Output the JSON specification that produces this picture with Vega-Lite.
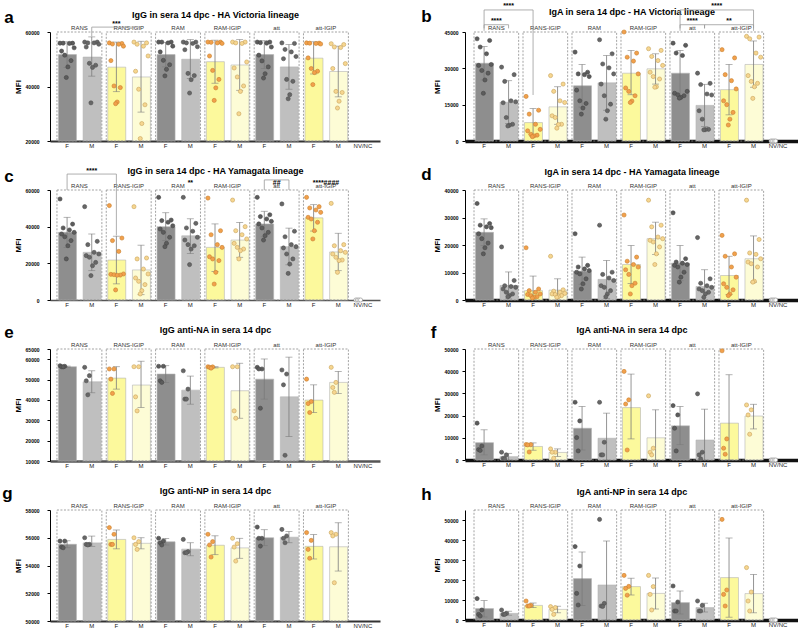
{
"$schema":"https://vega.github.io/schema/vega-lite/v6.json",
"padding":{"left":2,"top":2,"right":0,"bottom":0},
"background":"white",
"config":{
 "font":"Liberation Sans",
 "view":{"stroke":null},
 "title":{"fontSize":17,"fontWeight":"bold","color":"#000"},
 "axisY":{"grid":false,"labelFontSize":5,"labelFontWeight":"bold","labelColor":"#000","labelOverlap":false,"labelSeparation":-100,"labelBound":false,"labelFlush":false,"titleFontSize":8,"titleFontWeight":"bold","titleColor":"#000","domainColor":"#000","domainWidth":1,"tickColor":"#000","tickSize":3,"titlePadding":3},
 "axisX":{"labelAngle":0,"ticks":false,"grid":false,"labelFontSize":6,"labelColor":"#222","labelPadding":1.5}
},
"datasets":{
"groups":[
{"g":"RANS","fk":"RANS F","mk":"RANS M"},
{"g":"RANS-IGIP","fk":"RANS-IGIP F","mk":"RANS-IGIP M"},
{"g":"RAM","fk":"RAM F","mk":"RAM M"},
{"g":"RAM-IGIP","fk":"RAM-IGIP F","mk":"RAM-IGIP M"},
{"g":"att","fk":"att F","mk":"att M"},
{"g":"att-IGIP","fk":"att-IGIP F","mk":"att-IGIP M"}
],
"brk":[
{"p":"a","b1":"RANS M","b2":"RANS-IGIP M","y":61800,"l1":58400,"l2":61800},
{"p":"b","b1":"RANS F","b2":"RANS-IGIP F","y":54100,"l1":45500,"l2":19000},
{"p":"b","b1":"RANS F","b2":"RANS M","y":48000,"l1":46500,"l2":46500},
{"p":"b","b1":"att F","b2":"att-IGIP M","y":54100,"l1":45500,"l2":45500},
{"p":"b","b1":"att F","b2":"att M","y":48000,"l1":46500,"l2":46500},
{"p":"b","b1":"att M","b2":"att-IGIP M","y":48000,"l1":46500,"l2":46500},
{"p":"c","b1":"RANS F","b2":"RANS-IGIP F","y":68700,"l1":60000,"l2":35200},
{"p":"c","b1":"att F","b2":"att M","y":65500,"l1":60000,"l2":60000}
],
"sig":[
{"p":"a","at":"RANS-IGIP F","y":61800,"t":"***","mid":false},
{"p":"b","at":"RANS M","y":54100,"t":"****","mid":false},
{"p":"b","at":"RANS F","y":48000,"t":"****","mid":true},
{"p":"b","at":"att M","y":54100,"t":"****","mid":true},
{"p":"b","at":"att F","y":48000,"t":"****","mid":true},
{"p":"b","at":"att-IGIP F","y":48000,"t":"**","mid":false},
{"p":"c","at":"RANS M","y":68700,"t":"****","mid":false},
{"p":"c","at":"RAM M","y":62000,"t":"**","mid":false},
{"p":"c","at":"att F","y":62000,"t":"##","mid":true},
{"p":"c","at":"att-IGIP F","y":62000,"t":"****####","mid":true}
],
"bars":[
{"p":"a","bar":"RANS F","m":51700,"lo":47000,"hi":56400},
{"p":"a","bar":"RANS M","m":50800,"lo":43800,"hi":58200},
{"p":"a","bar":"RANS-IGIP F","m":47100,"lo":38100,"hi":56300},
{"p":"a","bar":"RANS-IGIP M","m":43500,"lo":30600,"hi":56600},
{"p":"a","bar":"RAM F","m":51700,"lo":47200,"hi":56200},
{"p":"a","bar":"RAM M","m":50000,"lo":42900,"hi":57200},
{"p":"a","bar":"RAM-IGIP F","m":49100,"lo":41200,"hi":57000},
{"p":"a","bar":"RAM-IGIP M","m":47900,"lo":38600,"hi":57200},
{"p":"a","bar":"att F","m":51700,"lo":46600,"hi":56800},
{"p":"a","bar":"att M","m":47200,"lo":39000,"hi":55400},
{"p":"a","bar":"att-IGIP F","m":50400,"lo":44600,"hi":56400},
{"p":"a","bar":"att-IGIP M","m":45500,"lo":36200,"hi":54800},
{"p":"b","bar":"RANS F","m":32100,"lo":25200,"hi":39000},
{"p":"b","bar":"RANS M","m":16000,"lo":7200,"hi":24900},
{"p":"b","bar":"RANS-IGIP F","m":7600,"lo":1800,"hi":13400},
{"p":"b","bar":"RANS-IGIP M","m":14100,"lo":6900,"hi":22400},
{"p":"b","bar":"RAM F","m":22800,"lo":14000,"hi":31600},
{"p":"b","bar":"RAM M","m":24000,"lo":12700,"hi":35300},
{"p":"b","bar":"RAM-IGIP F","m":28000,"lo":19100,"hi":37400},
{"p":"b","bar":"RAM-IGIP M","m":29800,"lo":23500,"hi":36000},
{"p":"b","bar":"att F","m":28000,"lo":18600,"hi":37400},
{"p":"b","bar":"att M","m":14700,"lo":6000,"hi":23400},
{"p":"b","bar":"att-IGIP F","m":21200,"lo":10800,"hi":31600},
{"p":"b","bar":"att-IGIP M","m":31600,"lo":22200,"hi":41300},
{"p":"c","bar":"RANS F","m":36900,"lo":28700,"hi":45100},
{"p":"c","bar":"RANS M","m":26000,"lo":16000,"hi":36000},
{"p":"c","bar":"RANS-IGIP F","m":21800,"lo":8800,"hi":34800},
{"p":"c","bar":"RANS-IGIP M","m":16400,"lo":2900,"hi":29900},
{"p":"c","bar":"RAM F","m":40000,"lo":32400,"hi":47600},
{"p":"c","bar":"RAM M","m":35000,"lo":25300,"hi":44300},
{"p":"c","bar":"RAM-IGIP F","m":28700,"lo":15600,"hi":41500},
{"p":"c","bar":"RAM-IGIP M","m":32700,"lo":23300,"hi":42300},
{"p":"c","bar":"att F","m":41500,"lo":34500,"hi":48400},
{"p":"c","bar":"att M","m":29100,"lo":19200,"hi":39200},
{"p":"c","bar":"att-IGIP F","m":44800,"lo":37600,"hi":52000},
{"p":"c","bar":"att-IGIP M","m":26200,"lo":16000,"hi":36400},
{"p":"d","bar":"RANS F","m":24600,"lo":19800,"hi":29500},
{"p":"d","bar":"RANS M","m":5300,"lo":400,"hi":10200},
{"p":"d","bar":"RANS-IGIP F","m":3400,"lo":0,"hi":8700},
{"p":"d","bar":"RANS-IGIP M","m":3600,"lo":0,"hi":7700},
{"p":"d","bar":"RAM F","m":10500,"lo":5700,"hi":15600},
{"p":"d","bar":"RAM M","m":7500,"lo":600,"hi":14400},
{"p":"d","bar":"RAM-IGIP F","m":12900,"lo":6000,"hi":19800},
{"p":"d","bar":"RAM-IGIP M","m":22300,"lo":16500,"hi":28300},
{"p":"d","bar":"att F","m":13400,"lo":7000,"hi":19800},
{"p":"d","bar":"att M","m":4900,"lo":0,"hi":11000},
{"p":"d","bar":"att-IGIP F","m":8900,"lo":2000,"hi":15900},
{"p":"d","bar":"att-IGIP M","m":15000,"lo":6500,"hi":23300},
{"p":"e","bar":"RANS F","m":56300,"lo":56000,"hi":56600},
{"p":"e","bar":"RANS M","m":48900,"lo":43500,"hi":54300},
{"p":"e","bar":"RANS-IGIP F","m":50700,"lo":45300,"hi":56300},
{"p":"e","bar":"RANS-IGIP M","m":47300,"lo":36300,"hi":59000},
{"p":"e","bar":"RAM F","m":52700,"lo":48600,"hi":56800},
{"p":"e","bar":"RAM M","m":44800,"lo":37900,"hi":51700},
{"p":"e","bar":"RAM-IGIP F","m":56000,"lo":55700,"hi":56300},
{"p":"e","bar":"RAM-IGIP M","m":44500,"lo":31000,"hi":58000},
{"p":"e","bar":"att F","m":50200,"lo":40400,"hi":60100},
{"p":"e","bar":"att M","m":41500,"lo":22000,"hi":61000},
{"p":"e","bar":"att-IGIP F","m":39900,"lo":33800,"hi":47400},
{"p":"e","bar":"att-IGIP M","m":48600,"lo":43200,"hi":54000},
{"p":"f","bar":"RANS F","m":7800,"lo":2300,"hi":13600},
{"p":"f","bar":"RANS M","m":1500,"lo":0,"hi":3000},
{"p":"f","bar":"RANS-IGIP F","m":6100,"lo":4400,"hi":7700},
{"p":"f","bar":"RANS-IGIP M","m":3400,"lo":1600,"hi":5000},
{"p":"f","bar":"RAM F","m":14300,"lo":4500,"hi":24100},
{"p":"f","bar":"RAM M","m":9800,"lo":0,"hi":21100},
{"p":"f","bar":"RAM-IGIP F","m":23600,"lo":9500,"hi":38700},
{"p":"f","bar":"RAM-IGIP M","m":10000,"lo":0,"hi":22600},
{"p":"f","bar":"att F","m":15400,"lo":6900,"hi":24100},
{"p":"f","bar":"att M","m":9000,"lo":0,"hi":22900},
{"p":"f","bar":"att-IGIP F","m":16600,"lo":0,"hi":38400},
{"p":"f","bar":"att-IGIP M","m":19800,"lo":14000,"hi":25100},
{"p":"g","bar":"RANS F","m":55530,"lo":55280,"hi":55780},
{"p":"g","bar":"RANS M","m":55630,"lo":55380,"hi":56120},
{"p":"g","bar":"RANS-IGIP F","m":55880,"lo":55200,"hi":56560},
{"p":"g","bar":"RANS-IGIP M","m":55600,"lo":55200,"hi":56000},
{"p":"g","bar":"RAM F","m":55710,"lo":55480,"hi":55950},
{"p":"g","bar":"RAM M","m":55180,"lo":54700,"hi":55640},
{"p":"g","bar":"RAM-IGIP F","m":55460,"lo":54780,"hi":56140},
{"p":"g","bar":"RAM-IGIP M","m":55270,"lo":54520,"hi":55960},
{"p":"g","bar":"att F","m":56000,"lo":55430,"hi":56580},
{"p":"g","bar":"att M","m":56040,"lo":55640,"hi":56450},
{"p":"g","bar":"att-IGIP F","m":55380,"lo":54470,"hi":56230},
{"p":"g","bar":"att-IGIP M","m":55350,"lo":53600,"hi":57080},
{"p":"h","bar":"RANS F","m":5700,"lo":1500,"hi":9700},
{"p":"h","bar":"RANS M","m":3300,"lo":2400,"hi":4400},
{"p":"h","bar":"RANS-IGIP F","m":7300,"lo":6200,"hi":8500},
{"p":"h","bar":"RANS-IGIP M","m":5300,"lo":3600,"hi":6900},
{"p":"h","bar":"RAM F","m":20700,"lo":7300,"hi":34000},
{"p":"h","bar":"RAM M","m":17500,"lo":0,"hi":39500},
{"p":"h","bar":"RAM-IGIP F","m":16700,"lo":12500,"hi":20900},
{"p":"h","bar":"RAM-IGIP M","m":13300,"lo":5500,"hi":21000},
{"p":"h","bar":"att F","m":8700,"lo":3000,"hi":14500},
{"p":"h","bar":"att M","m":6200,"lo":4000,"hi":8400},
{"p":"h","bar":"att-IGIP F","m":21200,"lo":1400,"hi":41000},
{"p":"h","bar":"att-IGIP M","m":13200,"lo":3600,"hi":22800}
],
"pts":[
{"p":"a","bar":"RANS F","id":1,"v":55900},{"p":"a","bar":"RANS F","id":9,"v":55900},{"p":"a","bar":"RANS F","id":3,"v":55900},{"p":"a","bar":"RANS F","id":7,"v":55800},{"p":"a","bar":"RANS F","id":10,"v":54200},{"p":"a","bar":"RANS F","id":2,"v":53000},{"p":"a","bar":"RANS F","id":4,"v":51500},{"p":"a","bar":"RANS F","id":8,"v":49500},{"p":"a","bar":"RANS F","id":6,"v":47200},{"p":"a","bar":"RANS F","id":5,"v":43300},
{"p":"a","bar":"RANS M","id":1,"v":56300},{"p":"a","bar":"RANS M","id":9,"v":56300},{"p":"a","bar":"RANS M","id":3,"v":56000},{"p":"a","bar":"RANS M","id":7,"v":56000},{"p":"a","bar":"RANS M","id":10,"v":55500},{"p":"a","bar":"RANS M","id":2,"v":54500},{"p":"a","bar":"RANS M","id":4,"v":48500},{"p":"a","bar":"RANS M","id":8,"v":47800},{"p":"a","bar":"RANS M","id":6,"v":47000},{"p":"a","bar":"RANS M","id":5,"v":34000},
{"p":"a","bar":"RANS-IGIP F","id":1,"v":56000},{"p":"a","bar":"RANS-IGIP F","id":9,"v":55800},{"p":"a","bar":"RANS-IGIP F","id":3,"v":55600},{"p":"a","bar":"RANS-IGIP F","id":7,"v":55500},{"p":"a","bar":"RANS-IGIP F","id":10,"v":54800},{"p":"a","bar":"RANS-IGIP F","id":2,"v":49500},{"p":"a","bar":"RANS-IGIP F","id":4,"v":40200},{"p":"a","bar":"RANS-IGIP F","id":8,"v":39600},{"p":"a","bar":"RANS-IGIP F","id":6,"v":34300},{"p":"a","bar":"RANS-IGIP F","id":5,"v":33700},
{"p":"a","bar":"RANS-IGIP M","id":1,"v":56300},{"p":"a","bar":"RANS-IGIP M","id":9,"v":56000},{"p":"a","bar":"RANS-IGIP M","id":3,"v":55500},{"p":"a","bar":"RANS-IGIP M","id":7,"v":54800},{"p":"a","bar":"RANS-IGIP M","id":10,"v":51200},{"p":"a","bar":"RANS-IGIP M","id":2,"v":45600},{"p":"a","bar":"RANS-IGIP M","id":4,"v":39000},{"p":"a","bar":"RANS-IGIP M","id":8,"v":33300},{"p":"a","bar":"RANS-IGIP M","id":6,"v":26400},{"p":"a","bar":"RANS-IGIP M","id":5,"v":20900},
{"p":"a","bar":"RAM F","id":1,"v":56300},{"p":"a","bar":"RAM F","id":9,"v":56300},{"p":"a","bar":"RAM F","id":3,"v":56300},{"p":"a","bar":"RAM F","id":7,"v":56000},{"p":"a","bar":"RAM F","id":10,"v":54800},{"p":"a","bar":"RAM F","id":2,"v":52700},{"p":"a","bar":"RAM F","id":4,"v":49600},{"p":"a","bar":"RAM F","id":8,"v":48000},{"p":"a","bar":"RAM F","id":6,"v":46300},{"p":"a","bar":"RAM F","id":5,"v":43900},
{"p":"a","bar":"RAM M","id":1,"v":56300},{"p":"a","bar":"RAM M","id":9,"v":56300},{"p":"a","bar":"RAM M","id":3,"v":56000},{"p":"a","bar":"RAM M","id":7,"v":55800},{"p":"a","bar":"RAM M","id":10,"v":54600},{"p":"a","bar":"RAM M","id":2,"v":53500},{"p":"a","bar":"RAM M","id":4,"v":44800},{"p":"a","bar":"RAM M","id":8,"v":44000},{"p":"a","bar":"RAM M","id":6,"v":42500},{"p":"a","bar":"RAM M","id":5,"v":37600},
{"p":"a","bar":"RAM-IGIP F","id":1,"v":56300},{"p":"a","bar":"RAM-IGIP F","id":9,"v":56300},{"p":"a","bar":"RAM-IGIP F","id":3,"v":56200},{"p":"a","bar":"RAM-IGIP F","id":7,"v":56000},{"p":"a","bar":"RAM-IGIP F","id":10,"v":55800},{"p":"a","bar":"RAM-IGIP F","id":2,"v":51200},{"p":"a","bar":"RAM-IGIP F","id":4,"v":45900},{"p":"a","bar":"RAM-IGIP F","id":8,"v":42600},{"p":"a","bar":"RAM-IGIP F","id":6,"v":39500},{"p":"a","bar":"RAM-IGIP F","id":5,"v":34900},
{"p":"a","bar":"RAM-IGIP M","id":1,"v":56300},{"p":"a","bar":"RAM-IGIP M","id":9,"v":56300},{"p":"a","bar":"RAM-IGIP M","id":3,"v":56000},{"p":"a","bar":"RAM-IGIP M","id":7,"v":55800},{"p":"a","bar":"RAM-IGIP M","id":10,"v":49000},{"p":"a","bar":"RAM-IGIP M","id":2,"v":46800},{"p":"a","bar":"RAM-IGIP M","id":4,"v":43500},{"p":"a","bar":"RAM-IGIP M","id":8,"v":40200},{"p":"a","bar":"RAM-IGIP M","id":6,"v":38200},{"p":"a","bar":"RAM-IGIP M","id":5,"v":30000},
{"p":"a","bar":"att F","id":1,"v":56300},{"p":"a","bar":"att F","id":9,"v":56300},{"p":"a","bar":"att F","id":3,"v":56100},{"p":"a","bar":"att F","id":7,"v":55900},{"p":"a","bar":"att F","id":10,"v":54500},{"p":"a","bar":"att F","id":2,"v":51500},{"p":"a","bar":"att F","id":4,"v":49400},{"p":"a","bar":"att F","id":8,"v":47200},{"p":"a","bar":"att F","id":6,"v":44700},{"p":"a","bar":"att F","id":5,"v":43100},
{"p":"a","bar":"att M","id":1,"v":56000},{"p":"a","bar":"att M","id":9,"v":55800},{"p":"a","bar":"att M","id":3,"v":53600},{"p":"a","bar":"att M","id":7,"v":52700},{"p":"a","bar":"att M","id":10,"v":51000},{"p":"a","bar":"att M","id":2,"v":50200},{"p":"a","bar":"att M","id":4,"v":42600},{"p":"a","bar":"att M","id":8,"v":41900},{"p":"a","bar":"att M","id":6,"v":37000},{"p":"a","bar":"att M","id":5,"v":35500},
{"p":"a","bar":"att-IGIP F","id":1,"v":56000},{"p":"a","bar":"att-IGIP F","id":9,"v":55900},{"p":"a","bar":"att-IGIP F","id":3,"v":55900},{"p":"a","bar":"att-IGIP F","id":7,"v":55800},{"p":"a","bar":"att-IGIP F","id":10,"v":55600},{"p":"a","bar":"att-IGIP F","id":2,"v":50500},{"p":"a","bar":"att-IGIP F","id":4,"v":46600},{"p":"a","bar":"att-IGIP F","id":8,"v":45600},{"p":"a","bar":"att-IGIP F","id":6,"v":45100},{"p":"a","bar":"att-IGIP F","id":5,"v":40700},
{"p":"a","bar":"att-IGIP M","id":1,"v":55700},{"p":"a","bar":"att-IGIP M","id":9,"v":55400},{"p":"a","bar":"att-IGIP M","id":3,"v":54500},{"p":"a","bar":"att-IGIP M","id":7,"v":54300},{"p":"a","bar":"att-IGIP M","id":10,"v":48400},{"p":"a","bar":"att-IGIP M","id":2,"v":46600},{"p":"a","bar":"att-IGIP M","id":4,"v":38200},{"p":"a","bar":"att-IGIP M","id":8,"v":37800},{"p":"a","bar":"att-IGIP M","id":6,"v":34600},{"p":"a","bar":"att-IGIP M","id":5,"v":32100},
{"p":"b","bar":"RANS F","id":1,"v":42200},{"p":"b","bar":"RANS F","id":9,"v":41500},{"p":"b","bar":"RANS F","id":3,"v":38800},{"p":"b","bar":"RANS F","id":7,"v":36000},{"p":"b","bar":"RANS F","id":10,"v":31600},{"p":"b","bar":"RANS F","id":2,"v":31200},{"p":"b","bar":"RANS F","id":4,"v":29100},{"p":"b","bar":"RANS F","id":8,"v":28000},{"p":"b","bar":"RANS F","id":6,"v":25200},{"p":"b","bar":"RANS F","id":5,"v":19700},
{"p":"b","bar":"RANS M","id":1,"v":30500},{"p":"b","bar":"RANS M","id":9,"v":27400},{"p":"b","bar":"RANS M","id":3,"v":24600},{"p":"b","bar":"RANS M","id":7,"v":16600},{"p":"b","bar":"RANS M","id":10,"v":16200},{"p":"b","bar":"RANS M","id":2,"v":15800},{"p":"b","bar":"RANS M","id":4,"v":9700},{"p":"b","bar":"RANS M","id":8,"v":6900},{"p":"b","bar":"RANS M","id":6,"v":6500},{"p":"b","bar":"RANS M","id":5,"v":6200},
{"p":"b","bar":"RANS-IGIP F","id":1,"v":18400},{"p":"b","bar":"RANS-IGIP F","id":9,"v":12700},{"p":"b","bar":"RANS-IGIP F","id":3,"v":11100},{"p":"b","bar":"RANS-IGIP F","id":7,"v":6900},{"p":"b","bar":"RANS-IGIP F","id":10,"v":4800},{"p":"b","bar":"RANS-IGIP F","id":2,"v":4200},{"p":"b","bar":"RANS-IGIP F","id":4,"v":2800},{"p":"b","bar":"RANS-IGIP F","id":8,"v":2400},{"p":"b","bar":"RANS-IGIP F","id":6,"v":2100},{"p":"b","bar":"RANS-IGIP F","id":5,"v":1800},
{"p":"b","bar":"RANS-IGIP M","id":1,"v":27000},{"p":"b","bar":"RANS-IGIP M","id":9,"v":23500},{"p":"b","bar":"RANS-IGIP M","id":3,"v":20500},{"p":"b","bar":"RANS-IGIP M","id":7,"v":16600},{"p":"b","bar":"RANS-IGIP M","id":10,"v":15900},{"p":"b","bar":"RANS-IGIP M","id":2,"v":10400},{"p":"b","bar":"RANS-IGIP M","id":4,"v":9700},{"p":"b","bar":"RANS-IGIP M","id":8,"v":6900},{"p":"b","bar":"RANS-IGIP M","id":6,"v":6800},{"p":"b","bar":"RANS-IGIP M","id":5,"v":5300},
{"p":"b","bar":"RAM F","id":1,"v":36700},{"p":"b","bar":"RAM F","id":9,"v":28400},{"p":"b","bar":"RAM F","id":3,"v":27700},{"p":"b","bar":"RAM F","id":7,"v":27400},{"p":"b","bar":"RAM F","id":10,"v":26600},{"p":"b","bar":"RAM F","id":2,"v":21000},{"p":"b","bar":"RAM F","id":4,"v":16600},{"p":"b","bar":"RAM F","id":8,"v":15500},{"p":"b","bar":"RAM F","id":6,"v":13600},{"p":"b","bar":"RAM F","id":5,"v":11100},
{"p":"b","bar":"RAM M","id":1,"v":41800},{"p":"b","bar":"RAM M","id":9,"v":36000},{"p":"b","bar":"RAM M","id":3,"v":31800},{"p":"b","bar":"RAM M","id":7,"v":30200},{"p":"b","bar":"RAM M","id":10,"v":27700},{"p":"b","bar":"RAM M","id":2,"v":23500},{"p":"b","bar":"RAM M","id":4,"v":18700},{"p":"b","bar":"RAM M","id":8,"v":15200},{"p":"b","bar":"RAM M","id":6,"v":12500},{"p":"b","bar":"RAM M","id":5,"v":9000},
{"p":"b","bar":"RAM-IGIP F","id":1,"v":45000},{"p":"b","bar":"RAM-IGIP F","id":9,"v":36300},{"p":"b","bar":"RAM-IGIP F","id":3,"v":34600},{"p":"b","bar":"RAM-IGIP F","id":7,"v":33000},{"p":"b","bar":"RAM-IGIP F","id":10,"v":27700},{"p":"b","bar":"RAM-IGIP F","id":2,"v":21900},{"p":"b","bar":"RAM-IGIP F","id":4,"v":20500},{"p":"b","bar":"RAM-IGIP F","id":8,"v":18700},{"p":"b","bar":"RAM-IGIP F","id":6,"v":16500},{"p":"b","bar":"RAM-IGIP F","id":5,"v":15900},
{"p":"b","bar":"RAM-IGIP M","id":1,"v":38100},{"p":"b","bar":"RAM-IGIP M","id":9,"v":37400},{"p":"b","bar":"RAM-IGIP M","id":3,"v":34900},{"p":"b","bar":"RAM-IGIP M","id":7,"v":33200},{"p":"b","bar":"RAM-IGIP M","id":10,"v":31200},{"p":"b","bar":"RAM-IGIP M","id":2,"v":28400},{"p":"b","bar":"RAM-IGIP M","id":4,"v":26600},{"p":"b","bar":"RAM-IGIP M","id":8,"v":25600},{"p":"b","bar":"RAM-IGIP M","id":6,"v":22400},{"p":"b","bar":"RAM-IGIP M","id":5,"v":22200},
{"p":"b","bar":"att F","id":1,"v":40400},{"p":"b","bar":"att F","id":9,"v":39500},{"p":"b","bar":"att F","id":3,"v":36300},{"p":"b","bar":"att F","id":7,"v":35300},{"p":"b","bar":"att F","id":10,"v":20500},{"p":"b","bar":"att F","id":2,"v":19700},{"p":"b","bar":"att F","id":4,"v":19100},{"p":"b","bar":"att F","id":8,"v":18700},{"p":"b","bar":"att F","id":6,"v":18000},{"p":"b","bar":"att F","id":5,"v":17700},
{"p":"b","bar":"att M","id":1,"v":28000},{"p":"b","bar":"att M","id":9,"v":23800},{"p":"b","bar":"att M","id":3,"v":23300},{"p":"b","bar":"att M","id":7,"v":19400},{"p":"b","bar":"att M","id":10,"v":19000},{"p":"b","bar":"att M","id":2,"v":12500},{"p":"b","bar":"att M","id":4,"v":9000},{"p":"b","bar":"att M","id":8,"v":4800},{"p":"b","bar":"att M","id":6,"v":4700},{"p":"b","bar":"att M","id":5,"v":4600},
{"p":"b","bar":"att-IGIP F","id":1,"v":37700},{"p":"b","bar":"att-IGIP F","id":9,"v":34300},{"p":"b","bar":"att-IGIP F","id":3,"v":27400},{"p":"b","bar":"att-IGIP F","id":7,"v":24900},{"p":"b","bar":"att-IGIP F","id":10,"v":21500},{"p":"b","bar":"att-IGIP F","id":2,"v":16600},{"p":"b","bar":"att-IGIP F","id":4,"v":15000},{"p":"b","bar":"att-IGIP F","id":8,"v":11800},{"p":"b","bar":"att-IGIP F","id":6,"v":9000},{"p":"b","bar":"att-IGIP F","id":5,"v":6600},
{"p":"b","bar":"att-IGIP M","id":1,"v":43200},{"p":"b","bar":"att-IGIP M","id":9,"v":42900},{"p":"b","bar":"att-IGIP M","id":3,"v":42200},{"p":"b","bar":"att-IGIP M","id":7,"v":36300},{"p":"b","bar":"att-IGIP M","id":10,"v":34600},{"p":"b","bar":"att-IGIP M","id":2,"v":27000},{"p":"b","bar":"att-IGIP M","id":4,"v":24600},{"p":"b","bar":"att-IGIP M","id":8,"v":23800},{"p":"b","bar":"att-IGIP M","id":6,"v":22400},{"p":"b","bar":"att-IGIP M","id":5,"v":17600},
{"p":"b","bar":"NV/NC","id":1,"v":0},{"p":"b","bar":"NV/NC","id":2,"v":0},{"p":"b","bar":"NV/NC","id":3,"v":0},{"p":"b","bar":"NV/NC","id":4,"v":0},
{"p":"c","bar":"RANS F","id":1,"v":55100},{"p":"c","bar":"RANS F","id":9,"v":41400},{"p":"c","bar":"RANS F","id":3,"v":39300},{"p":"c","bar":"RANS F","id":7,"v":38200},{"p":"c","bar":"RANS F","id":10,"v":36900},{"p":"c","bar":"RANS F","id":2,"v":36000},{"p":"c","bar":"RANS F","id":4,"v":34500},{"p":"c","bar":"RANS F","id":8,"v":32400},{"p":"c","bar":"RANS F","id":6,"v":29600},{"p":"c","bar":"RANS F","id":5,"v":22400},
{"p":"c","bar":"RANS M","id":1,"v":50900},{"p":"c","bar":"RANS M","id":9,"v":32000},{"p":"c","bar":"RANS M","id":3,"v":30200},{"p":"c","bar":"RANS M","id":7,"v":26000},{"p":"c","bar":"RANS M","id":10,"v":25100},{"p":"c","bar":"RANS M","id":2,"v":24200},{"p":"c","bar":"RANS M","id":4,"v":23300},{"p":"c","bar":"RANS M","id":8,"v":20500},{"p":"c","bar":"RANS M","id":6,"v":18700},{"p":"c","bar":"RANS M","id":5,"v":13300},
{"p":"c","bar":"RANS-IGIP F","id":1,"v":51500},{"p":"c","bar":"RANS-IGIP F","id":9,"v":33800},{"p":"c","bar":"RANS-IGIP F","id":3,"v":32400},{"p":"c","bar":"RANS-IGIP F","id":7,"v":26500},{"p":"c","bar":"RANS-IGIP F","id":10,"v":14200},{"p":"c","bar":"RANS-IGIP F","id":2,"v":14000},{"p":"c","bar":"RANS-IGIP F","id":4,"v":13800},{"p":"c","bar":"RANS-IGIP F","id":8,"v":13600},{"p":"c","bar":"RANS-IGIP F","id":6,"v":13500},{"p":"c","bar":"RANS-IGIP F","id":5,"v":5500},
{"p":"c","bar":"RANS-IGIP M","id":1,"v":50900},{"p":"c","bar":"RANS-IGIP M","id":9,"v":22900},{"p":"c","bar":"RANS-IGIP M","id":3,"v":22400},{"p":"c","bar":"RANS-IGIP M","id":7,"v":16900},{"p":"c","bar":"RANS-IGIP M","id":10,"v":14200},{"p":"c","bar":"RANS-IGIP M","id":2,"v":12000},{"p":"c","bar":"RANS-IGIP M","id":4,"v":10200},{"p":"c","bar":"RANS-IGIP M","id":8,"v":8400},{"p":"c","bar":"RANS-IGIP M","id":6,"v":5100},{"p":"c","bar":"RANS-IGIP M","id":5,"v":3300},
{"p":"c","bar":"RAM F","id":1,"v":56000},{"p":"c","bar":"RAM F","id":9,"v":43600},{"p":"c","bar":"RAM F","id":3,"v":43300},{"p":"c","bar":"RAM F","id":7,"v":42400},{"p":"c","bar":"RAM F","id":10,"v":40500},{"p":"c","bar":"RAM F","id":2,"v":38700},{"p":"c","bar":"RAM F","id":4,"v":36900},{"p":"c","bar":"RAM F","id":8,"v":34200},{"p":"c","bar":"RAM F","id":6,"v":30900},{"p":"c","bar":"RAM F","id":5,"v":29100},
{"p":"c","bar":"RAM M","id":1,"v":56000},{"p":"c","bar":"RAM M","id":9,"v":41800},{"p":"c","bar":"RAM M","id":3,"v":39300},{"p":"c","bar":"RAM M","id":7,"v":37500},{"p":"c","bar":"RAM M","id":10,"v":34200},{"p":"c","bar":"RAM M","id":2,"v":32700},{"p":"c","bar":"RAM M","id":4,"v":30200},{"p":"c","bar":"RAM M","id":8,"v":29600},{"p":"c","bar":"RAM M","id":6,"v":27800},{"p":"c","bar":"RAM M","id":5,"v":19300},
{"p":"c","bar":"RAM-IGIP F","id":1,"v":55600},{"p":"c","bar":"RAM-IGIP F","id":9,"v":37800},{"p":"c","bar":"RAM-IGIP F","id":3,"v":35600},{"p":"c","bar":"RAM-IGIP F","id":7,"v":30200},{"p":"c","bar":"RAM-IGIP F","id":10,"v":28700},{"p":"c","bar":"RAM-IGIP F","id":2,"v":23600},{"p":"c","bar":"RAM-IGIP F","id":4,"v":22400},{"p":"c","bar":"RAM-IGIP F","id":8,"v":21500},{"p":"c","bar":"RAM-IGIP F","id":6,"v":15100},{"p":"c","bar":"RAM-IGIP F","id":5,"v":8700},
{"p":"c","bar":"RAM-IGIP M","id":1,"v":54500},{"p":"c","bar":"RAM-IGIP M","id":9,"v":40000},{"p":"c","bar":"RAM-IGIP M","id":3,"v":37800},{"p":"c","bar":"RAM-IGIP M","id":7,"v":35600},{"p":"c","bar":"RAM-IGIP M","id":10,"v":33300},{"p":"c","bar":"RAM-IGIP M","id":2,"v":30900},{"p":"c","bar":"RAM-IGIP M","id":4,"v":28700},{"p":"c","bar":"RAM-IGIP M","id":8,"v":27800},{"p":"c","bar":"RAM-IGIP M","id":6,"v":26900},{"p":"c","bar":"RAM-IGIP M","id":5,"v":22400},
{"p":"c","bar":"att F","id":1,"v":56000},{"p":"c","bar":"att F","id":9,"v":46500},{"p":"c","bar":"att F","id":3,"v":45500},{"p":"c","bar":"att F","id":7,"v":44200},{"p":"c","bar":"att F","id":10,"v":42900},{"p":"c","bar":"att F","id":2,"v":41500},{"p":"c","bar":"att F","id":4,"v":39300},{"p":"c","bar":"att F","id":8,"v":36900},{"p":"c","bar":"att F","id":6,"v":35100},{"p":"c","bar":"att F","id":5,"v":32700},
{"p":"c","bar":"att M","id":1,"v":52400},{"p":"c","bar":"att M","id":9,"v":37500},{"p":"c","bar":"att M","id":3,"v":34500},{"p":"c","bar":"att M","id":7,"v":30200},{"p":"c","bar":"att M","id":10,"v":29100},{"p":"c","bar":"att M","id":2,"v":28400},{"p":"c","bar":"att M","id":4,"v":25100},{"p":"c","bar":"att M","id":8,"v":22400},{"p":"c","bar":"att M","id":6,"v":19600},{"p":"c","bar":"att M","id":5,"v":14500},
{"p":"c","bar":"att-IGIP F","id":1,"v":56000},{"p":"c","bar":"att-IGIP F","id":9,"v":50900},{"p":"c","bar":"att-IGIP F","id":3,"v":50200},{"p":"c","bar":"att-IGIP F","id":7,"v":49100},{"p":"c","bar":"att-IGIP F","id":10,"v":47800},{"p":"c","bar":"att-IGIP F","id":2,"v":45100},{"p":"c","bar":"att-IGIP F","id":4,"v":44200},{"p":"c","bar":"att-IGIP F","id":8,"v":42400},{"p":"c","bar":"att-IGIP F","id":6,"v":37800},{"p":"c","bar":"att-IGIP F","id":5,"v":33300},
{"p":"c","bar":"att-IGIP M","id":1,"v":52700},{"p":"c","bar":"att-IGIP M","id":9,"v":30200},{"p":"c","bar":"att-IGIP M","id":3,"v":29600},{"p":"c","bar":"att-IGIP M","id":7,"v":26900},{"p":"c","bar":"att-IGIP M","id":10,"v":26000},{"p":"c","bar":"att-IGIP M","id":2,"v":25100},{"p":"c","bar":"att-IGIP M","id":4,"v":23300},{"p":"c","bar":"att-IGIP M","id":8,"v":21800},{"p":"c","bar":"att-IGIP M","id":6,"v":21500},{"p":"c","bar":"att-IGIP M","id":5,"v":15100},
{"p":"c","bar":"NV/NC","id":1,"v":0},{"p":"c","bar":"NV/NC","id":2,"v":0},{"p":"c","bar":"NV/NC","id":3,"v":0},{"p":"c","bar":"NV/NC","id":4,"v":0},
{"p":"d","bar":"RANS F","id":1,"v":35100},{"p":"d","bar":"RANS F","id":9,"v":27800},{"p":"d","bar":"RANS F","id":3,"v":27200},{"p":"d","bar":"RANS F","id":7,"v":26600},{"p":"d","bar":"RANS F","id":10,"v":26300},{"p":"d","bar":"RANS F","id":2,"v":24100},{"p":"d","bar":"RANS F","id":4,"v":22300},{"p":"d","bar":"RANS F","id":8,"v":20700},{"p":"d","bar":"RANS F","id":6,"v":19000},{"p":"d","bar":"RANS F","id":5,"v":16800},
{"p":"d","bar":"RANS M","id":1,"v":19300},{"p":"d","bar":"RANS M","id":9,"v":7100},{"p":"d","bar":"RANS M","id":3,"v":5200},{"p":"d","bar":"RANS M","id":7,"v":4900},{"p":"d","bar":"RANS M","id":10,"v":4600},{"p":"d","bar":"RANS M","id":2,"v":4000},{"p":"d","bar":"RANS M","id":4,"v":2800},{"p":"d","bar":"RANS M","id":8,"v":2200},{"p":"d","bar":"RANS M","id":6,"v":1600},{"p":"d","bar":"RANS M","id":5,"v":1200},
{"p":"d","bar":"RANS-IGIP F","id":1,"v":19000},{"p":"d","bar":"RANS-IGIP F","id":9,"v":4000},{"p":"d","bar":"RANS-IGIP F","id":3,"v":3400},{"p":"d","bar":"RANS-IGIP F","id":7,"v":2800},{"p":"d","bar":"RANS-IGIP F","id":10,"v":2200},{"p":"d","bar":"RANS-IGIP F","id":2,"v":2000},{"p":"d","bar":"RANS-IGIP F","id":4,"v":1600},{"p":"d","bar":"RANS-IGIP F","id":8,"v":1200},{"p":"d","bar":"RANS-IGIP F","id":6,"v":1000},{"p":"d","bar":"RANS-IGIP F","id":5,"v":700},
{"p":"d","bar":"RANS-IGIP M","id":1,"v":15900},{"p":"d","bar":"RANS-IGIP M","id":9,"v":3700},{"p":"d","bar":"RANS-IGIP M","id":3,"v":3200},{"p":"d","bar":"RANS-IGIP M","id":7,"v":2800},{"p":"d","bar":"RANS-IGIP M","id":10,"v":2400},{"p":"d","bar":"RANS-IGIP M","id":2,"v":2200},{"p":"d","bar":"RANS-IGIP M","id":4,"v":2000},{"p":"d","bar":"RANS-IGIP M","id":8,"v":1600},{"p":"d","bar":"RANS-IGIP M","id":6,"v":1200},{"p":"d","bar":"RANS-IGIP M","id":5,"v":1000},
{"p":"d","bar":"RAM F","id":1,"v":24100},{"p":"d","bar":"RAM F","id":9,"v":12600},{"p":"d","bar":"RAM F","id":3,"v":12000},{"p":"d","bar":"RAM F","id":7,"v":11300},{"p":"d","bar":"RAM F","id":10,"v":10700},{"p":"d","bar":"RAM F","id":2,"v":10100},{"p":"d","bar":"RAM F","id":4,"v":9500},{"p":"d","bar":"RAM F","id":8,"v":7700},{"p":"d","bar":"RAM F","id":6,"v":5900},{"p":"d","bar":"RAM F","id":5,"v":4000},
{"p":"d","bar":"RAM M","id":1,"v":27200},{"p":"d","bar":"RAM M","id":9,"v":10100},{"p":"d","bar":"RAM M","id":3,"v":9300},{"p":"d","bar":"RAM M","id":7,"v":8000},{"p":"d","bar":"RAM M","id":10,"v":7100},{"p":"d","bar":"RAM M","id":2,"v":5200},{"p":"d","bar":"RAM M","id":4,"v":4600},{"p":"d","bar":"RAM M","id":8,"v":3400},{"p":"d","bar":"RAM M","id":6,"v":2200},{"p":"d","bar":"RAM M","id":5,"v":1200},
{"p":"d","bar":"RAM-IGIP F","id":1,"v":30900},{"p":"d","bar":"RAM-IGIP F","id":9,"v":15600},{"p":"d","bar":"RAM-IGIP F","id":3,"v":14100},{"p":"d","bar":"RAM-IGIP F","id":7,"v":12900},{"p":"d","bar":"RAM-IGIP F","id":10,"v":12000},{"p":"d","bar":"RAM-IGIP F","id":2,"v":11000},{"p":"d","bar":"RAM-IGIP F","id":4,"v":9300},{"p":"d","bar":"RAM-IGIP F","id":8,"v":6100},{"p":"d","bar":"RAM-IGIP F","id":6,"v":5200},{"p":"d","bar":"RAM-IGIP F","id":5,"v":2200},
{"p":"d","bar":"RAM-IGIP M","id":1,"v":36300},{"p":"d","bar":"RAM-IGIP M","id":9,"v":27200},{"p":"d","bar":"RAM-IGIP M","id":3,"v":26600},{"p":"d","bar":"RAM-IGIP M","id":7,"v":22900},{"p":"d","bar":"RAM-IGIP M","id":10,"v":22300},{"p":"d","bar":"RAM-IGIP M","id":2,"v":21700},{"p":"d","bar":"RAM-IGIP M","id":4,"v":21100},{"p":"d","bar":"RAM-IGIP M","id":8,"v":19300},{"p":"d","bar":"RAM-IGIP M","id":6,"v":16800},{"p":"d","bar":"RAM-IGIP M","id":5,"v":12900},
{"p":"d","bar":"att F","id":1,"v":31700},{"p":"d","bar":"att F","id":9,"v":15000},{"p":"d","bar":"att F","id":3,"v":13800},{"p":"d","bar":"att F","id":7,"v":13400},{"p":"d","bar":"att F","id":10,"v":12900},{"p":"d","bar":"att F","id":2,"v":12600},{"p":"d","bar":"att F","id":4,"v":12000},{"p":"d","bar":"att F","id":8,"v":10100},{"p":"d","bar":"att F","id":6,"v":8300},{"p":"d","bar":"att F","id":5,"v":6500},
{"p":"d","bar":"att M","id":1,"v":22700},{"p":"d","bar":"att M","id":9,"v":7700},{"p":"d","bar":"att M","id":3,"v":6100},{"p":"d","bar":"att M","id":7,"v":5200},{"p":"d","bar":"att M","id":10,"v":4600},{"p":"d","bar":"att M","id":2,"v":4000},{"p":"d","bar":"att M","id":4,"v":3400},{"p":"d","bar":"att M","id":8,"v":2800},{"p":"d","bar":"att M","id":6,"v":2200},{"p":"d","bar":"att M","id":5,"v":1000},
{"p":"d","bar":"att-IGIP F","id":1,"v":23500},{"p":"d","bar":"att-IGIP F","id":9,"v":16800},{"p":"d","bar":"att-IGIP F","id":3,"v":15900},{"p":"d","bar":"att-IGIP F","id":7,"v":12000},{"p":"d","bar":"att-IGIP F","id":10,"v":8300},{"p":"d","bar":"att-IGIP F","id":2,"v":5900},{"p":"d","bar":"att-IGIP F","id":4,"v":4600},{"p":"d","bar":"att-IGIP F","id":8,"v":3700},{"p":"d","bar":"att-IGIP F","id":6,"v":2200},{"p":"d","bar":"att-IGIP F","id":5,"v":1600},
{"p":"d","bar":"att-IGIP M","id":1,"v":36300},{"p":"d","bar":"att-IGIP M","id":9,"v":22000},{"p":"d","bar":"att-IGIP M","id":3,"v":17100},{"p":"d","bar":"att-IGIP M","id":7,"v":16600},{"p":"d","bar":"att-IGIP M","id":10,"v":15000},{"p":"d","bar":"att-IGIP M","id":2,"v":13800},{"p":"d","bar":"att-IGIP M","id":4,"v":13200},{"p":"d","bar":"att-IGIP M","id":8,"v":12000},{"p":"d","bar":"att-IGIP M","id":6,"v":6800},{"p":"d","bar":"att-IGIP M","id":5,"v":6500},
{"p":"d","bar":"NV/NC","id":1,"v":0},{"p":"d","bar":"NV/NC","id":2,"v":0},{"p":"d","bar":"NV/NC","id":3,"v":0},{"p":"d","bar":"NV/NC","id":4,"v":0},
{"p":"e","bar":"RANS F","id":1,"v":56800},{"p":"e","bar":"RANS F","id":4,"v":56500},{"p":"e","bar":"RANS F","id":2,"v":56300},{"p":"e","bar":"RANS F","id":3,"v":56200},
{"p":"e","bar":"RANS M","id":1,"v":56000},{"p":"e","bar":"RANS M","id":4,"v":51900},{"p":"e","bar":"RANS M","id":2,"v":49400},{"p":"e","bar":"RANS M","id":3,"v":42500},
{"p":"e","bar":"RANS-IGIP F","id":1,"v":55200},{"p":"e","bar":"RANS-IGIP F","id":4,"v":55200},{"p":"e","bar":"RANS-IGIP F","id":2,"v":50200},{"p":"e","bar":"RANS-IGIP F","id":3,"v":43200},
{"p":"e","bar":"RANS-IGIP M","id":1,"v":56300},{"p":"e","bar":"RANS-IGIP M","id":4,"v":56300},{"p":"e","bar":"RANS-IGIP M","id":2,"v":41500},{"p":"e","bar":"RANS-IGIP M","id":3,"v":34600},
{"p":"e","bar":"RAM F","id":1,"v":56500},{"p":"e","bar":"RAM F","id":4,"v":56500},{"p":"e","bar":"RAM F","id":2,"v":49400},{"p":"e","bar":"RAM F","id":3,"v":48600},
{"p":"e","bar":"RAM M","id":1,"v":54300},{"p":"e","bar":"RAM M","id":4,"v":45300},{"p":"e","bar":"RAM M","id":2,"v":40400},{"p":"e","bar":"RAM M","id":3,"v":40400},
{"p":"e","bar":"RAM-IGIP F","id":1,"v":56300},{"p":"e","bar":"RAM-IGIP F","id":4,"v":56200},{"p":"e","bar":"RAM-IGIP F","id":2,"v":56000},{"p":"e","bar":"RAM-IGIP F","id":3,"v":55600},
{"p":"e","bar":"RAM-IGIP M","id":1,"v":56300},{"p":"e","bar":"RAM-IGIP M","id":4,"v":56300},{"p":"e","bar":"RAM-IGIP M","id":2,"v":34600},{"p":"e","bar":"RAM-IGIP M","id":3,"v":31000},
{"p":"e","bar":"att F","id":1,"v":56000},{"p":"e","bar":"att F","id":4,"v":55200},{"p":"e","bar":"att F","id":2,"v":55200},{"p":"e","bar":"att F","id":3,"v":35900},
{"p":"e","bar":"att M","id":1,"v":54700},{"p":"e","bar":"att M","id":4,"v":52700},{"p":"e","bar":"att M","id":2,"v":47400},{"p":"e","bar":"att M","id":3,"v":12800},
{"p":"e","bar":"att-IGIP F","id":1,"v":50200},{"p":"e","bar":"att-IGIP F","id":4,"v":39200},{"p":"e","bar":"att-IGIP F","id":2,"v":38200},{"p":"e","bar":"att-IGIP F","id":3,"v":33800},
{"p":"e","bar":"att-IGIP M","id":1,"v":56000},{"p":"e","bar":"att-IGIP M","id":4,"v":48600},{"p":"e","bar":"att-IGIP M","id":2,"v":46100},{"p":"e","bar":"att-IGIP M","id":3,"v":43700},
{"p":"f","bar":"RANS F","id":1,"v":16600},{"p":"f","bar":"RANS F","id":4,"v":6300},{"p":"f","bar":"RANS F","id":2,"v":4700},{"p":"f","bar":"RANS F","id":3,"v":4300},
{"p":"f","bar":"RANS M","id":1,"v":3500},{"p":"f","bar":"RANS M","id":4,"v":2300},{"p":"f","bar":"RANS M","id":2,"v":800},{"p":"f","bar":"RANS M","id":3,"v":500},
{"p":"f","bar":"RANS-IGIP F","id":1,"v":7000},{"p":"f","bar":"RANS-IGIP F","id":4,"v":6900},{"p":"f","bar":"RANS-IGIP F","id":2,"v":6800},{"p":"f","bar":"RANS-IGIP F","id":3,"v":3600},
{"p":"f","bar":"RANS-IGIP M","id":1,"v":5000},{"p":"f","bar":"RANS-IGIP M","id":4,"v":3500},{"p":"f","bar":"RANS-IGIP M","id":2,"v":3500},{"p":"f","bar":"RANS-IGIP M","id":3,"v":800},
{"p":"f","bar":"RAM F","id":1,"v":26000},{"p":"f","bar":"RAM F","id":4,"v":17600},{"p":"f","bar":"RAM F","id":2,"v":10100},{"p":"f","bar":"RAM F","id":3,"v":4100},
{"p":"f","bar":"RAM M","id":1,"v":26000},{"p":"f","bar":"RAM M","id":4,"v":8000},{"p":"f","bar":"RAM M","id":2,"v":2300},{"p":"f","bar":"RAM M","id":3,"v":2300},
{"p":"f","bar":"RAM-IGIP F","id":1,"v":39900},{"p":"f","bar":"RAM-IGIP F","id":4,"v":27100},{"p":"f","bar":"RAM-IGIP F","id":2,"v":25200},{"p":"f","bar":"RAM-IGIP F","id":3,"v":4500},
{"p":"f","bar":"RAM-IGIP M","id":1,"v":28900},{"p":"f","bar":"RAM-IGIP M","id":4,"v":5300},{"p":"f","bar":"RAM-IGIP M","id":2,"v":3500},{"p":"f","bar":"RAM-IGIP M","id":3,"v":2300},
{"p":"f","bar":"att F","id":1,"v":24500},{"p":"f","bar":"att F","id":4,"v":20300},{"p":"f","bar":"att F","id":2,"v":14300},{"p":"f","bar":"att F","id":3,"v":4100},
{"p":"f","bar":"att M","id":1,"v":29800},{"p":"f","bar":"att M","id":4,"v":3500},{"p":"f","bar":"att M","id":2,"v":2300},{"p":"f","bar":"att M","id":3,"v":500},
{"p":"f","bar":"att-IGIP F","id":1,"v":49200},{"p":"f","bar":"att-IGIP F","id":4,"v":9500},{"p":"f","bar":"att-IGIP F","id":2,"v":5300},{"p":"f","bar":"att-IGIP F","id":3,"v":2600},
{"p":"f","bar":"att-IGIP M","id":1,"v":24800},{"p":"f","bar":"att-IGIP M","id":4,"v":22600},{"p":"f","bar":"att-IGIP M","id":2,"v":20300},{"p":"f","bar":"att-IGIP M","id":3,"v":11600},
{"p":"f","bar":"NV/NC","id":1,"v":0},{"p":"f","bar":"NV/NC","id":2,"v":0},{"p":"f","bar":"NV/NC","id":3,"v":0},{"p":"f","bar":"NV/NC","id":4,"v":0},
{"p":"g","bar":"RANS F","id":1,"v":55760},{"p":"g","bar":"RANS F","id":4,"v":55760},{"p":"g","bar":"RANS F","id":2,"v":55330},{"p":"g","bar":"RANS F","id":3,"v":55280},
{"p":"g","bar":"RANS M","id":1,"v":56000},{"p":"g","bar":"RANS M","id":4,"v":55520},{"p":"g","bar":"RANS M","id":2,"v":55520},{"p":"g","bar":"RANS M","id":3,"v":55480},
{"p":"g","bar":"RANS-IGIP F","id":1,"v":56730},{"p":"g","bar":"RANS-IGIP F","id":4,"v":56250},{"p":"g","bar":"RANS-IGIP F","id":2,"v":55520},{"p":"g","bar":"RANS-IGIP F","id":3,"v":55520},
{"p":"g","bar":"RANS-IGIP M","id":1,"v":56000},{"p":"g","bar":"RANS-IGIP M","id":4,"v":55720},{"p":"g","bar":"RANS-IGIP M","id":2,"v":55520},{"p":"g","bar":"RANS-IGIP M","id":3,"v":55160},
{"p":"g","bar":"RAM F","id":1,"v":55960},{"p":"g","bar":"RAM F","id":4,"v":55760},{"p":"g","bar":"RAM F","id":2,"v":55640},{"p":"g","bar":"RAM F","id":3,"v":55480},
{"p":"g","bar":"RAM M","id":1,"v":55880},{"p":"g","bar":"RAM M","id":4,"v":55000},{"p":"g","bar":"RAM M","id":2,"v":54920},{"p":"g","bar":"RAM M","id":3,"v":54920},
{"p":"g","bar":"RAM-IGIP F","id":1,"v":56250},{"p":"g","bar":"RAM-IGIP F","id":4,"v":55720},{"p":"g","bar":"RAM-IGIP F","id":2,"v":55480},{"p":"g","bar":"RAM-IGIP F","id":3,"v":54610},
{"p":"g","bar":"RAM-IGIP M","id":1,"v":55960},{"p":"g","bar":"RAM-IGIP M","id":4,"v":55570},{"p":"g","bar":"RAM-IGIP M","id":2,"v":55330},{"p":"g","bar":"RAM-IGIP M","id":3,"v":54320},
{"p":"g","bar":"att F","id":1,"v":56770},{"p":"g","bar":"att F","id":4,"v":55960},{"p":"g","bar":"att F","id":2,"v":55960},{"p":"g","bar":"att F","id":3,"v":55400},
{"p":"g","bar":"att M","id":1,"v":56600},{"p":"g","bar":"att M","id":4,"v":56130},{"p":"g","bar":"att M","id":2,"v":55960},{"p":"g","bar":"att M","id":3,"v":55640},
{"p":"g","bar":"att-IGIP F","id":1,"v":56370},{"p":"g","bar":"att-IGIP F","id":4,"v":55810},{"p":"g","bar":"att-IGIP F","id":2,"v":55160},{"p":"g","bar":"att-IGIP F","id":3,"v":54520},
{"p":"g","bar":"att-IGIP M","id":1,"v":56370},{"p":"g","bar":"att-IGIP M","id":4,"v":56250},{"p":"g","bar":"att-IGIP M","id":2,"v":56130},{"p":"g","bar":"att-IGIP M","id":3,"v":52760},
{"p":"h","bar":"RANS F","id":1,"v":10700},{"p":"h","bar":"RANS F","id":4,"v":5000},{"p":"h","bar":"RANS F","id":2,"v":2800},{"p":"h","bar":"RANS F","id":3,"v":2000},
{"p":"h","bar":"RANS M","id":1,"v":5000},{"p":"h","bar":"RANS M","id":4,"v":3300},{"p":"h","bar":"RANS M","id":2,"v":2800},{"p":"h","bar":"RANS M","id":3,"v":2800},
{"p":"h","bar":"RANS-IGIP F","id":1,"v":9500},{"p":"h","bar":"RANS-IGIP F","id":4,"v":7300},{"p":"h","bar":"RANS-IGIP F","id":2,"v":7000},{"p":"h","bar":"RANS-IGIP F","id":3,"v":7000},
{"p":"h","bar":"RANS-IGIP M","id":1,"v":6700},{"p":"h","bar":"RANS-IGIP M","id":4,"v":6200},{"p":"h","bar":"RANS-IGIP M","id":2,"v":5300},{"p":"h","bar":"RANS-IGIP M","id":3,"v":2800},
{"p":"h","bar":"RAM F","id":1,"v":36700},{"p":"h","bar":"RAM F","id":4,"v":27000},{"p":"h","bar":"RAM F","id":2,"v":13300},{"p":"h","bar":"RAM F","id":3,"v":7500},
{"p":"h","bar":"RAM M","id":1,"v":50300},{"p":"h","bar":"RAM M","id":4,"v":8300},{"p":"h","bar":"RAM M","id":2,"v":7000},{"p":"h","bar":"RAM M","id":3,"v":6800},
{"p":"h","bar":"RAM-IGIP F","id":1,"v":22300},{"p":"h","bar":"RAM-IGIP F","id":4,"v":16800},{"p":"h","bar":"RAM-IGIP F","id":2,"v":15800},{"p":"h","bar":"RAM-IGIP F","id":3,"v":12400},
{"p":"h","bar":"RAM-IGIP M","id":1,"v":22300},{"p":"h","bar":"RAM-IGIP M","id":4,"v":16700},{"p":"h","bar":"RAM-IGIP M","id":2,"v":12800},{"p":"h","bar":"RAM-IGIP M","id":3,"v":5000},
{"p":"h","bar":"att F","id":1,"v":17000},{"p":"h","bar":"att F","id":4,"v":9000},{"p":"h","bar":"att F","id":2,"v":4500},{"p":"h","bar":"att F","id":3,"v":4500},
{"p":"h","bar":"att M","id":1,"v":9500},{"p":"h","bar":"att M","id":4,"v":7300},{"p":"h","bar":"att M","id":2,"v":4500},{"p":"h","bar":"att M","id":3,"v":4500},
{"p":"h","bar":"att-IGIP F","id":1,"v":50300},{"p":"h","bar":"att-IGIP F","id":4,"v":15000},{"p":"h","bar":"att-IGIP F","id":2,"v":12800},{"p":"h","bar":"att-IGIP F","id":3,"v":7000},
{"p":"h","bar":"att-IGIP M","id":1,"v":26200},{"p":"h","bar":"att-IGIP M","id":4,"v":14000},{"p":"h","bar":"att-IGIP M","id":2,"v":9500},{"p":"h","bar":"att-IGIP M","id":3,"v":4500},
{"p":"h","bar":"NV/NC","id":1,"v":0},{"p":"h","bar":"NV/NC","id":2,"v":0},{"p":"h","bar":"NV/NC","id":3,"v":0},{"p":"h","bar":"NV/NC","id":4,"v":0}
]
},
"columns":2,
"bounds":"flush",
"align":"each",
"spacing":{"row":49,"column":85},
"concat":[
{"width":330,"height":109,
 "title":{"text":"a","orient":"left","anchor":"end","angle":0,"align":"right","baseline":"top","offset":-9},
 "resolve":{"axis":{"x":"independent","y":"independent"}},
 "layer":[
  {"data":{"name":"bars"},"transform":[{"filter":"datum.p == 'a'"}],"mark":{"type":"bar","stroke":"#b4b4b4","strokeWidth":0.6},
   "encoding":{"x":{"field":"bar","type":"nominal","title":null,"scale":{"domain":["RANS F","RANS M","RANS-IGIP F","RANS-IGIP M","RAM F","RAM M","RAM-IGIP F","RAM-IGIP M","att F","att M","att-IGIP F","att-IGIP M","NV/NC"],"paddingInner":0.3,"paddingOuter":0.343,"align":0.5},"axis":{"orient":"bottom","labelExpr":"datum.value == 'NV/NC' ? 'NV/NC' : slice(datum.value, -1)","domainColor":"#333","domainWidth":2}},
    "y":{"field":"m","type":"quantitative","title":"MFI","scale":{"domain":[20000,60000],"zero":false,"nice":false},"axis":{"orient":"left","values":[20000,40000,60000],"format":"d","labelOverlap":false,"labelSeparation":-100,"labelPadding":8}},
    "y2":{"datum":20000},
    "color":{"field":"bar","type":"nominal","scale":{"domain":["RANS F","RANS M","RANS-IGIP F","RANS-IGIP M","RAM F","RAM M","RAM-IGIP F","RAM-IGIP M","att F","att M","att-IGIP F","att-IGIP M","NV/NC"],"range":["#8e8e8e","#bfbfbf","#fcf99c","#fdfcd6","#8e8e8e","#bfbfbf","#fcf99c","#fdfcd6","#8e8e8e","#bfbfbf","#fcf99c","#fdfcd6","#ffffff"]},"legend":null}}},
  {"data":{"name":"groups"},"mark":{"type":"rect","fill":"transparent","stroke":"#8c8c8c","strokeWidth":0.8,"strokeDash":[2,1.5],"xOffset":-1.5,"x2Offset":1.5},
   "encoding":{"x":{"field":"fk","type":"nominal","bandPosition":0,"axis":null},"x2":{"field":"mk","bandPosition":1},"y":{"datum":60000,"type":"quantitative","axis":null},"y2":{"datum":20000}}},
  {"data":{"name":"bars"},"transform":[{"filter":"datum.p == 'a'"}],"mark":{"type":"rule","color":"#7a7a7a","strokeWidth":0.8,"clip":true},
   "encoding":{"x":{"field":"bar","type":"nominal","axis":null},"y":{"field":"lo","type":"quantitative","axis":null},"y2":{"field":"hi"}}},
  {"data":{"name":"bars"},"transform":[{"filter":"datum.p == 'a'"}],"mark":{"type":"tick","orient":"horizontal","size":7,"thickness":0.8,"color":"#7a7a7a","clip":true},
   "encoding":{"x":{"field":"bar","type":"nominal","axis":null},"y":{"field":"hi","type":"quantitative","axis":null}}},
  {"data":{"name":"bars"},"transform":[{"filter":"datum.p == 'a'"}],"mark":{"type":"tick","orient":"horizontal","size":7,"thickness":0.8,"color":"#7a7a7a","clip":true},
   "encoding":{"x":{"field":"bar","type":"nominal","axis":null},"y":{"field":"lo","type":"quantitative","axis":null}}},
  {"data":{"name":"pts"},"transform":[{"filter":"datum.p == 'a'"}],"mark":{"type":"circle","size":17,"strokeWidth":0.6,"opacity":1,"clip":true},
   "encoding":{"x":{"field":"bar","type":"nominal","axis":null},"xOffset":{"field":"id","type":"ordinal","scale":{"paddingOuter":1}},"y":{"field":"v","type":"quantitative","axis":null},
    "fill":{"field":"bar","type":"nominal","scale":{"domain":["RANS F","RANS M","RANS-IGIP F","RANS-IGIP M","RAM F","RAM M","RAM-IGIP F","RAM-IGIP M","att F","att M","att-IGIP F","att-IGIP M","NV/NC"],"range":["#5c5c5c","#676767","#f2a04c","#f6d690","#5c5c5c","#676767","#f2a04c","#f6d690","#5c5c5c","#676767","#f2a04c","#f6d690","#ffffff"]},"legend":null},
    "stroke":{"field":"bar","type":"nominal","scale":{"domain":["RANS F","RANS M","RANS-IGIP F","RANS-IGIP M","RAM F","RAM M","RAM-IGIP F","RAM-IGIP M","att F","att M","att-IGIP F","att-IGIP M","NV/NC"],"range":["#474747","#505050","#c7812f","#c8a35a","#474747","#505050","#c7812f","#c8a35a","#474747","#505050","#c7812f","#c8a35a","#8a8a8a"]},"legend":null}}},
  {"data":{"name":"groups"},"mark":{"type":"text","fontSize":6,"baseline":"bottom","dy":-1.5,"color":"#333"},
   "encoding":{"x":{"field":"fk","type":"nominal","bandPosition":1.2143,"axis":{"orient":"top","title":"IgG in sera 14 dpc - HA Victoria lineage","labels":false,"ticks":false,"domain":false,"titleFontSize":9,"titleFontWeight":"bold","titleColor":"#000","titlePadding":13}},"y":{"datum":60000,"type":"quantitative","axis":null},"text":{"field":"g"}}},
  {"data":{"name":"brk"},"transform":[{"filter":"datum.p == 'a'"}],"mark":{"type":"rule","color":"#9a9a9a","strokeWidth":0.8},
   "encoding":{"x":{"field":"b1","type":"nominal","bandPosition":0.5,"axis":null},"x2":{"field":"b2","bandPosition":0.5},"y":{"field":"y","type":"quantitative","axis":null}}},
  {"data":{"name":"brk"},"transform":[{"filter":"datum.p == 'a'"}],"mark":{"type":"rule","color":"#9a9a9a","strokeWidth":0.8},
   "encoding":{"x":{"field":"b1","type":"nominal","axis":null},"y":{"field":"y","type":"quantitative","axis":null},"y2":{"field":"l1"}}},
  {"data":{"name":"brk"},"transform":[{"filter":"datum.p == 'a'"}],"mark":{"type":"rule","color":"#9a9a9a","strokeWidth":0.8},
   "encoding":{"x":{"field":"b2","type":"nominal","axis":null},"y":{"field":"y","type":"quantitative","axis":null},"y2":{"field":"l2"}}},
  {"data":{"name":"sig"},"transform":[{"filter":"datum.p == 'a' && !datum.mid"}],"mark":{"type":"text","fontSize":7,"fontWeight":"bold","baseline":"bottom","dy":-0.5,"color":"#000"},
   "encoding":{"x":{"field":"at","type":"nominal","axis":null},"y":{"field":"y","type":"quantitative","axis":null},"text":{"field":"t"}}}
 ]},
{"width":333,"height":109,
 "title":{"text":"b","orient":"left","anchor":"end","angle":0,"align":"right","baseline":"top","offset":-9,"dy":7},
 "resolve":{"axis":{"x":"independent","y":"independent"}},
 "layer":[
  {"data":{"name":"bars"},"transform":[{"filter":"datum.p == 'b'"}],"mark":{"type":"bar","stroke":"#b4b4b4","strokeWidth":0.6},
   "encoding":{"x":{"field":"bar","type":"nominal","title":null,"scale":{"domain":["RANS F","RANS M","RANS-IGIP F","RANS-IGIP M","RAM F","RAM M","RAM-IGIP F","RAM-IGIP M","att F","att M","att-IGIP F","att-IGIP M","NV/NC"],"paddingInner":0.3,"paddingOuter":0.447,"align":0.48},"axis":{"orient":"bottom","labelExpr":"datum.value == 'NV/NC' ? 'NV/NC' : slice(datum.value, -1)","domainColor":"#111","domainWidth":3.5}},
    "y":{"field":"m","type":"quantitative","title":"MFI","scale":{"domain":[0,45000],"nice":false},"axis":{"orient":"left","values":[0,15000,30000,45000],"format":"d","labelOverlap":false,"labelSeparation":-100,"labelPadding":4}},
    "y2":{"datum":0},
    "color":{"field":"bar","type":"nominal","scale":{"domain":["RANS F","RANS M","RANS-IGIP F","RANS-IGIP M","RAM F","RAM M","RAM-IGIP F","RAM-IGIP M","att F","att M","att-IGIP F","att-IGIP M","NV/NC"],"range":["#8e8e8e","#bfbfbf","#fcf99c","#fdfcd6","#8e8e8e","#bfbfbf","#fcf99c","#fdfcd6","#8e8e8e","#bfbfbf","#fcf99c","#fdfcd6","#ffffff"]},"legend":null}}},
  {"data":{"name":"groups"},"mark":{"type":"rect","fill":"transparent","stroke":"#8c8c8c","strokeWidth":0.8,"strokeDash":[2,1.5],"xOffset":-1.5,"x2Offset":1.5},
   "encoding":{"x":{"field":"fk","type":"nominal","bandPosition":0,"axis":null},"x2":{"field":"mk","bandPosition":1},"y":{"datum":45000,"type":"quantitative","axis":null},"y2":{"datum":0}}},
  {"data":{"name":"bars"},"transform":[{"filter":"datum.p == 'b'"}],"mark":{"type":"rule","color":"#7a7a7a","strokeWidth":0.8,"clip":true},
   "encoding":{"x":{"field":"bar","type":"nominal","axis":null},"y":{"field":"lo","type":"quantitative","axis":null},"y2":{"field":"hi"}}},
  {"data":{"name":"bars"},"transform":[{"filter":"datum.p == 'b'"}],"mark":{"type":"tick","orient":"horizontal","size":7,"thickness":0.8,"color":"#7a7a7a","clip":true},
   "encoding":{"x":{"field":"bar","type":"nominal","axis":null},"y":{"field":"hi","type":"quantitative","axis":null}}},
  {"data":{"name":"bars"},"transform":[{"filter":"datum.p == 'b'"}],"mark":{"type":"tick","orient":"horizontal","size":7,"thickness":0.8,"color":"#7a7a7a","clip":true},
   "encoding":{"x":{"field":"bar","type":"nominal","axis":null},"y":{"field":"lo","type":"quantitative","axis":null}}},
  {"data":{"name":"pts"},"transform":[{"filter":"datum.p == 'b'"}],"mark":{"type":"circle","size":17,"strokeWidth":0.6,"opacity":1},
   "encoding":{"x":{"field":"bar","type":"nominal","axis":null},"xOffset":{"field":"id","type":"ordinal","scale":{"paddingOuter":1}},"y":{"field":"v","type":"quantitative","axis":null},
    "fill":{"field":"bar","type":"nominal","scale":{"domain":["RANS F","RANS M","RANS-IGIP F","RANS-IGIP M","RAM F","RAM M","RAM-IGIP F","RAM-IGIP M","att F","att M","att-IGIP F","att-IGIP M","NV/NC"],"range":["#5c5c5c","#676767","#f2a04c","#f6d690","#5c5c5c","#676767","#f2a04c","#f6d690","#5c5c5c","#676767","#f2a04c","#f6d690","#ffffff"]},"legend":null},
    "stroke":{"field":"bar","type":"nominal","scale":{"domain":["RANS F","RANS M","RANS-IGIP F","RANS-IGIP M","RAM F","RAM M","RAM-IGIP F","RAM-IGIP M","att F","att M","att-IGIP F","att-IGIP M","NV/NC"],"range":["#474747","#505050","#c7812f","#c8a35a","#474747","#505050","#c7812f","#c8a35a","#474747","#505050","#c7812f","#c8a35a","#8a8a8a"]},"legend":null}}},
  {"data":{"name":"groups"},"mark":{"type":"text","fontSize":6,"baseline":"bottom","dy":-1.5,"color":"#333"},
   "encoding":{"x":{"field":"fk","type":"nominal","bandPosition":1.2143,"axis":{"orient":"top","title":"IgA in sera 14 dpc - HA Victoria lineage","labels":false,"ticks":false,"domain":false,"titleFontSize":9,"titleFontWeight":"bold","titleColor":"#000","titlePadding":16}},"y":{"datum":45000,"type":"quantitative","axis":null},"text":{"field":"g"}}},
  {"data":{"name":"brk"},"transform":[{"filter":"datum.p == 'b'"}],"mark":{"type":"rule","color":"#9a9a9a","strokeWidth":0.8},
   "encoding":{"x":{"field":"b1","type":"nominal","bandPosition":0.5,"axis":null},"x2":{"field":"b2","bandPosition":0.5},"y":{"field":"y","type":"quantitative","axis":null}}},
  {"data":{"name":"brk"},"transform":[{"filter":"datum.p == 'b'"}],"mark":{"type":"rule","color":"#9a9a9a","strokeWidth":0.8},
   "encoding":{"x":{"field":"b1","type":"nominal","axis":null},"y":{"field":"y","type":"quantitative","axis":null},"y2":{"field":"l1"}}},
  {"data":{"name":"brk"},"transform":[{"filter":"datum.p == 'b'"}],"mark":{"type":"rule","color":"#9a9a9a","strokeWidth":0.8},
   "encoding":{"x":{"field":"b2","type":"nominal","axis":null},"y":{"field":"y","type":"quantitative","axis":null},"y2":{"field":"l2"}}},
  {"data":{"name":"sig"},"transform":[{"filter":"datum.p == 'b' && !datum.mid"}],"mark":{"type":"text","fontSize":7,"fontWeight":"bold","baseline":"bottom","dy":-0.5,"color":"#000"},
   "encoding":{"x":{"field":"at","type":"nominal","axis":null},"y":{"field":"y","type":"quantitative","axis":null},"text":{"field":"t"}}},
  {"data":{"name":"sig"},"transform":[{"filter":"datum.p == 'b' && datum.mid"}],"mark":{"type":"text","fontSize":7,"fontWeight":"bold","baseline":"bottom","dy":-0.5,"color":"#000"},
   "encoding":{"x":{"field":"at","type":"nominal","bandPosition":1.2143,"axis":null},"y":{"field":"y","type":"quantitative","axis":null},"text":{"field":"t"}}}
 ]},
{"width":330,"height":110,
 "title":{"text":"c","orient":"left","anchor":"end","angle":0,"align":"right","baseline":"top","offset":-9,"dy":3},
 "resolve":{"axis":{"x":"independent","y":"independent"}},
 "layer":[
  {"data":{"name":"bars"},"transform":[{"filter":"datum.p == 'c'"}],"mark":{"type":"bar","stroke":"#b4b4b4","strokeWidth":0.6},
   "encoding":{"x":{"field":"bar","type":"nominal","title":null,"scale":{"domain":["RANS F","RANS M","RANS-IGIP F","RANS-IGIP M","RAM F","RAM M","RAM-IGIP F","RAM-IGIP M","att F","att M","att-IGIP F","att-IGIP M","NV/NC"],"paddingInner":0.3,"paddingOuter":0.343,"align":0.5},"axis":{"orient":"bottom","labelExpr":"datum.value == 'NV/NC' ? 'NV/NC' : slice(datum.value, -1)","domainColor":"#555","domainWidth":1.5}},
    "y":{"field":"m","type":"quantitative","title":"MFI","scale":{"domain":[0,60000],"nice":false},"axis":{"orient":"left","values":[0,20000,40000,60000],"format":"d","labelOverlap":false,"labelSeparation":-100,"labelPadding":8}},
    "y2":{"datum":0},
    "color":{"field":"bar","type":"nominal","scale":{"domain":["RANS F","RANS M","RANS-IGIP F","RANS-IGIP M","RAM F","RAM M","RAM-IGIP F","RAM-IGIP M","att F","att M","att-IGIP F","att-IGIP M","NV/NC"],"range":["#8e8e8e","#bfbfbf","#fcf99c","#fdfcd6","#8e8e8e","#bfbfbf","#fcf99c","#fdfcd6","#8e8e8e","#bfbfbf","#fcf99c","#fdfcd6","#ffffff"]},"legend":null}}},
  {"data":{"name":"groups"},"mark":{"type":"rect","fill":"transparent","stroke":"#8c8c8c","strokeWidth":0.8,"strokeDash":[2,1.5],"xOffset":-1.5,"x2Offset":1.5},
   "encoding":{"x":{"field":"fk","type":"nominal","bandPosition":0,"axis":null},"x2":{"field":"mk","bandPosition":1},"y":{"datum":60000,"type":"quantitative","axis":null},"y2":{"datum":0}}},
  {"data":{"name":"bars"},"transform":[{"filter":"datum.p == 'c'"}],"mark":{"type":"rule","color":"#7a7a7a","strokeWidth":0.8,"clip":true},
   "encoding":{"x":{"field":"bar","type":"nominal","axis":null},"y":{"field":"lo","type":"quantitative","axis":null},"y2":{"field":"hi"}}},
  {"data":{"name":"bars"},"transform":[{"filter":"datum.p == 'c'"}],"mark":{"type":"tick","orient":"horizontal","size":7,"thickness":0.8,"color":"#7a7a7a","clip":true},
   "encoding":{"x":{"field":"bar","type":"nominal","axis":null},"y":{"field":"hi","type":"quantitative","axis":null}}},
  {"data":{"name":"bars"},"transform":[{"filter":"datum.p == 'c'"}],"mark":{"type":"tick","orient":"horizontal","size":7,"thickness":0.8,"color":"#7a7a7a","clip":true},
   "encoding":{"x":{"field":"bar","type":"nominal","axis":null},"y":{"field":"lo","type":"quantitative","axis":null}}},
  {"data":{"name":"pts"},"transform":[{"filter":"datum.p == 'c'"}],"mark":{"type":"circle","size":17,"strokeWidth":0.6,"opacity":1},
   "encoding":{"x":{"field":"bar","type":"nominal","axis":null},"xOffset":{"field":"id","type":"ordinal","scale":{"paddingOuter":1}},"y":{"field":"v","type":"quantitative","axis":null},
    "fill":{"field":"bar","type":"nominal","scale":{"domain":["RANS F","RANS M","RANS-IGIP F","RANS-IGIP M","RAM F","RAM M","RAM-IGIP F","RAM-IGIP M","att F","att M","att-IGIP F","att-IGIP M","NV/NC"],"range":["#5c5c5c","#676767","#f2a04c","#f6d690","#5c5c5c","#676767","#f2a04c","#f6d690","#5c5c5c","#676767","#f2a04c","#f6d690","#ffffff"]},"legend":null},
    "stroke":{"field":"bar","type":"nominal","scale":{"domain":["RANS F","RANS M","RANS-IGIP F","RANS-IGIP M","RAM F","RAM M","RAM-IGIP F","RAM-IGIP M","att F","att M","att-IGIP F","att-IGIP M","NV/NC"],"range":["#474747","#505050","#c7812f","#c8a35a","#474747","#505050","#c7812f","#c8a35a","#474747","#505050","#c7812f","#c8a35a","#8a8a8a"]},"legend":null}}},
  {"data":{"name":"groups"},"mark":{"type":"text","fontSize":6,"baseline":"bottom","dy":-1.5,"color":"#333"},
   "encoding":{"x":{"field":"fk","type":"nominal","bandPosition":1.2143,"axis":{"orient":"top","title":"IgG in sera 14 dpc - HA Yamagata lineage","labels":false,"ticks":false,"domain":false,"titleFontSize":9,"titleFontWeight":"bold","titleColor":"#000","titlePadding":15}},"y":{"datum":60000,"type":"quantitative","axis":null},"text":{"field":"g"}}},
  {"data":{"name":"brk"},"transform":[{"filter":"datum.p == 'c'"}],"mark":{"type":"rule","color":"#9a9a9a","strokeWidth":0.8},
   "encoding":{"x":{"field":"b1","type":"nominal","bandPosition":0.5,"axis":null},"x2":{"field":"b2","bandPosition":0.5},"y":{"field":"y","type":"quantitative","axis":null}}},
  {"data":{"name":"brk"},"transform":[{"filter":"datum.p == 'c'"}],"mark":{"type":"rule","color":"#9a9a9a","strokeWidth":0.8},
   "encoding":{"x":{"field":"b1","type":"nominal","axis":null},"y":{"field":"y","type":"quantitative","axis":null},"y2":{"field":"l1"}}},
  {"data":{"name":"brk"},"transform":[{"filter":"datum.p == 'c'"}],"mark":{"type":"rule","color":"#9a9a9a","strokeWidth":0.8},
   "encoding":{"x":{"field":"b2","type":"nominal","axis":null},"y":{"field":"y","type":"quantitative","axis":null},"y2":{"field":"l2"}}},
  {"data":{"name":"sig"},"transform":[{"filter":"datum.p == 'c' && !datum.mid"}],"mark":{"type":"text","fontSize":7,"fontWeight":"bold","baseline":"bottom","dy":-0.5,"color":"#000"},
   "encoding":{"x":{"field":"at","type":"nominal","axis":null},"y":{"field":"y","type":"quantitative","axis":null},"text":{"field":"t"}}},
  {"data":{"name":"sig"},"transform":[{"filter":"datum.p == 'c' && datum.mid"}],"mark":{"type":"text","fontSize":7,"fontWeight":"bold","baseline":"bottom","dy":-0.5,"color":"#000"},
   "encoding":{"x":{"field":"at","type":"nominal","bandPosition":1.2143,"axis":null},"y":{"field":"y","type":"quantitative","axis":null},"text":{"field":"t"}}}
 ]},
{"width":333,"height":110,
 "title":{"text":"d","orient":"left","anchor":"end","angle":0,"align":"right","baseline":"top","offset":-9},
 "resolve":{"axis":{"x":"independent","y":"independent"}},
 "layer":[
  {"data":{"name":"bars"},"transform":[{"filter":"datum.p == 'd'"}],"mark":{"type":"bar","stroke":"#b4b4b4","strokeWidth":0.6},
   "encoding":{"x":{"field":"bar","type":"nominal","title":null,"scale":{"domain":["RANS F","RANS M","RANS-IGIP F","RANS-IGIP M","RAM F","RAM M","RAM-IGIP F","RAM-IGIP M","att F","att M","att-IGIP F","att-IGIP M","NV/NC"],"paddingInner":0.3,"paddingOuter":0.447,"align":0.48},"axis":{"orient":"bottom","labelExpr":"datum.value == 'NV/NC' ? 'NV/NC' : slice(datum.value, -1)","domainColor":"#111","domainWidth":3.5}},
    "y":{"field":"m","type":"quantitative","title":"MFI","scale":{"domain":[0,40000],"nice":false},"axis":{"orient":"left","values":[0,10000,20000,30000,40000],"format":"d","labelOverlap":false,"labelSeparation":-100,"labelPadding":4}},
    "y2":{"datum":0},
    "color":{"field":"bar","type":"nominal","scale":{"domain":["RANS F","RANS M","RANS-IGIP F","RANS-IGIP M","RAM F","RAM M","RAM-IGIP F","RAM-IGIP M","att F","att M","att-IGIP F","att-IGIP M","NV/NC"],"range":["#8e8e8e","#bfbfbf","#fcf99c","#fdfcd6","#8e8e8e","#bfbfbf","#fcf99c","#fdfcd6","#8e8e8e","#bfbfbf","#fcf99c","#fdfcd6","#ffffff"]},"legend":null}}},
  {"data":{"name":"groups"},"mark":{"type":"rect","fill":"transparent","stroke":"#8c8c8c","strokeWidth":0.8,"strokeDash":[2,1.5],"xOffset":-1.5,"x2Offset":1.5},
   "encoding":{"x":{"field":"fk","type":"nominal","bandPosition":0,"axis":null},"x2":{"field":"mk","bandPosition":1},"y":{"datum":40000,"type":"quantitative","axis":null},"y2":{"datum":0}}},
  {"data":{"name":"bars"},"transform":[{"filter":"datum.p == 'd'"}],"mark":{"type":"rule","color":"#7a7a7a","strokeWidth":0.8,"clip":true},
   "encoding":{"x":{"field":"bar","type":"nominal","axis":null},"y":{"field":"lo","type":"quantitative","axis":null},"y2":{"field":"hi"}}},
  {"data":{"name":"bars"},"transform":[{"filter":"datum.p == 'd'"}],"mark":{"type":"tick","orient":"horizontal","size":7,"thickness":0.8,"color":"#7a7a7a","clip":true},
   "encoding":{"x":{"field":"bar","type":"nominal","axis":null},"y":{"field":"hi","type":"quantitative","axis":null}}},
  {"data":{"name":"bars"},"transform":[{"filter":"datum.p == 'd'"}],"mark":{"type":"tick","orient":"horizontal","size":7,"thickness":0.8,"color":"#7a7a7a","clip":true},
   "encoding":{"x":{"field":"bar","type":"nominal","axis":null},"y":{"field":"lo","type":"quantitative","axis":null}}},
  {"data":{"name":"pts"},"transform":[{"filter":"datum.p == 'd'"}],"mark":{"type":"circle","size":17,"strokeWidth":0.6,"opacity":1},
   "encoding":{"x":{"field":"bar","type":"nominal","axis":null},"xOffset":{"field":"id","type":"ordinal","scale":{"paddingOuter":1}},"y":{"field":"v","type":"quantitative","axis":null},
    "fill":{"field":"bar","type":"nominal","scale":{"domain":["RANS F","RANS M","RANS-IGIP F","RANS-IGIP M","RAM F","RAM M","RAM-IGIP F","RAM-IGIP M","att F","att M","att-IGIP F","att-IGIP M","NV/NC"],"range":["#5c5c5c","#676767","#f2a04c","#f6d690","#5c5c5c","#676767","#f2a04c","#f6d690","#5c5c5c","#676767","#f2a04c","#f6d690","#ffffff"]},"legend":null},
    "stroke":{"field":"bar","type":"nominal","scale":{"domain":["RANS F","RANS M","RANS-IGIP F","RANS-IGIP M","RAM F","RAM M","RAM-IGIP F","RAM-IGIP M","att F","att M","att-IGIP F","att-IGIP M","NV/NC"],"range":["#474747","#505050","#c7812f","#c8a35a","#474747","#505050","#c7812f","#c8a35a","#474747","#505050","#c7812f","#c8a35a","#8a8a8a"]},"legend":null}}},
  {"data":{"name":"groups"},"mark":{"type":"text","fontSize":6,"baseline":"bottom","dy":-1.5,"color":"#333"},
   "encoding":{"x":{"field":"fk","type":"nominal","bandPosition":1.2143,"axis":{"orient":"top","title":"IgA in sera 14 dpc -  HA Yamagata lineage","labels":false,"ticks":false,"domain":false,"titleFontSize":9,"titleFontWeight":"bold","titleColor":"#000","titlePadding":14}},"y":{"datum":40000,"type":"quantitative","axis":null},"text":{"field":"g"}}}
 ]},
{"width":330,"height":112,
 "title":{"text":"e","orient":"left","anchor":"end","angle":0,"align":"right","baseline":"top","offset":-9},
 "resolve":{"axis":{"x":"independent","y":"independent"}},
 "layer":[
  {"data":{"name":"bars"},"transform":[{"filter":"datum.p == 'e'"}],"mark":{"type":"bar","stroke":"#b4b4b4","strokeWidth":0.6},
   "encoding":{"x":{"field":"bar","type":"nominal","title":null,"scale":{"domain":["RANS F","RANS M","RANS-IGIP F","RANS-IGIP M","RAM F","RAM M","RAM-IGIP F","RAM-IGIP M","att F","att M","att-IGIP F","att-IGIP M","NV/NC"],"paddingInner":0.3,"paddingOuter":0.343,"align":0.5},"axis":{"orient":"bottom","labelExpr":"datum.value == 'NV/NC' ? 'NV/NC' : slice(datum.value, -1)","domainColor":"#555","domainWidth":2.5}},
    "y":{"field":"m","type":"quantitative","title":"MFI","scale":{"domain":[10000,65000],"zero":false,"nice":false},"axis":{"orient":"left","values":[10000,20000,30000,40000,50000,60000,65000],"format":"d","labelOverlap":false,"labelSeparation":-100,"labelPadding":8}},
    "y2":{"datum":10000},
    "color":{"field":"bar","type":"nominal","scale":{"domain":["RANS F","RANS M","RANS-IGIP F","RANS-IGIP M","RAM F","RAM M","RAM-IGIP F","RAM-IGIP M","att F","att M","att-IGIP F","att-IGIP M","NV/NC"],"range":["#8e8e8e","#bfbfbf","#fcf99c","#fdfcd6","#8e8e8e","#bfbfbf","#fcf99c","#fdfcd6","#8e8e8e","#bfbfbf","#fcf99c","#fdfcd6","#ffffff"]},"legend":null}}},
  {"data":{"name":"groups"},"mark":{"type":"rect","fill":"transparent","stroke":"#8c8c8c","strokeWidth":0.8,"strokeDash":[2,1.5],"xOffset":-1.5,"x2Offset":1.5},
   "encoding":{"x":{"field":"fk","type":"nominal","bandPosition":0,"axis":null},"x2":{"field":"mk","bandPosition":1},"y":{"datum":65000,"type":"quantitative","axis":null},"y2":{"datum":10000}}},
  {"data":{"name":"bars"},"transform":[{"filter":"datum.p == 'e'"}],"mark":{"type":"rule","color":"#7a7a7a","strokeWidth":0.8,"clip":true},
   "encoding":{"x":{"field":"bar","type":"nominal","axis":null},"y":{"field":"lo","type":"quantitative","axis":null},"y2":{"field":"hi"}}},
  {"data":{"name":"bars"},"transform":[{"filter":"datum.p == 'e'"}],"mark":{"type":"tick","orient":"horizontal","size":7,"thickness":0.8,"color":"#7a7a7a","clip":true},
   "encoding":{"x":{"field":"bar","type":"nominal","axis":null},"y":{"field":"hi","type":"quantitative","axis":null}}},
  {"data":{"name":"bars"},"transform":[{"filter":"datum.p == 'e'"}],"mark":{"type":"tick","orient":"horizontal","size":7,"thickness":0.8,"color":"#7a7a7a","clip":true},
   "encoding":{"x":{"field":"bar","type":"nominal","axis":null},"y":{"field":"lo","type":"quantitative","axis":null}}},
  {"data":{"name":"pts"},"transform":[{"filter":"datum.p == 'e'"}],"mark":{"type":"circle","size":17,"strokeWidth":0.6,"opacity":1},
   "encoding":{"x":{"field":"bar","type":"nominal","axis":null},"xOffset":{"field":"id","type":"ordinal","scale":{"paddingOuter":0}},"y":{"field":"v","type":"quantitative","axis":null},
    "fill":{"field":"bar","type":"nominal","scale":{"domain":["RANS F","RANS M","RANS-IGIP F","RANS-IGIP M","RAM F","RAM M","RAM-IGIP F","RAM-IGIP M","att F","att M","att-IGIP F","att-IGIP M","NV/NC"],"range":["#5c5c5c","#676767","#f2a04c","#f6d690","#5c5c5c","#676767","#f2a04c","#f6d690","#5c5c5c","#676767","#f2a04c","#f6d690","#ffffff"]},"legend":null},
    "stroke":{"field":"bar","type":"nominal","scale":{"domain":["RANS F","RANS M","RANS-IGIP F","RANS-IGIP M","RAM F","RAM M","RAM-IGIP F","RAM-IGIP M","att F","att M","att-IGIP F","att-IGIP M","NV/NC"],"range":["#474747","#505050","#c7812f","#c8a35a","#474747","#505050","#c7812f","#c8a35a","#474747","#505050","#c7812f","#c8a35a","#8a8a8a"]},"legend":null}}},
  {"data":{"name":"groups"},"mark":{"type":"text","fontSize":6,"baseline":"bottom","dy":-1.5,"color":"#333"},
   "encoding":{"x":{"field":"fk","type":"nominal","bandPosition":1.2143,"axis":{"orient":"top","title":"IgG anti-NA in sera 14 dpc","labels":false,"ticks":false,"domain":false,"titleFontSize":9,"titleFontWeight":"bold","titleColor":"#000","titlePadding":15}},"y":{"datum":65000,"type":"quantitative","axis":null},"text":{"field":"g"}}}
 ]},
{"width":333,"height":111,
 "title":{"text":"f","orient":"left","anchor":"end","angle":0,"align":"right","baseline":"top","offset":-9},
 "resolve":{"axis":{"x":"independent","y":"independent"}},
 "layer":[
  {"data":{"name":"bars"},"transform":[{"filter":"datum.p == 'f'"}],"mark":{"type":"bar","stroke":"#b4b4b4","strokeWidth":0.6},
   "encoding":{"x":{"field":"bar","type":"nominal","title":null,"scale":{"domain":["RANS F","RANS M","RANS-IGIP F","RANS-IGIP M","RAM F","RAM M","RAM-IGIP F","RAM-IGIP M","att F","att M","att-IGIP F","att-IGIP M","NV/NC"],"paddingInner":0.3,"paddingOuter":0.447,"align":0.48},"axis":{"orient":"bottom","labelExpr":"datum.value == 'NV/NC' ? 'NV/NC' : slice(datum.value, -1)","domainColor":"#111","domainWidth":3.5}},
    "y":{"field":"m","type":"quantitative","title":"MFI","scale":{"domain":[0,50000],"nice":false},"axis":{"orient":"left","values":[0,10000,20000,30000,40000,50000],"format":"d","labelOverlap":false,"labelSeparation":-100,"labelPadding":4}},
    "y2":{"datum":0},
    "color":{"field":"bar","type":"nominal","scale":{"domain":["RANS F","RANS M","RANS-IGIP F","RANS-IGIP M","RAM F","RAM M","RAM-IGIP F","RAM-IGIP M","att F","att M","att-IGIP F","att-IGIP M","NV/NC"],"range":["#8e8e8e","#bfbfbf","#fcf99c","#fdfcd6","#8e8e8e","#bfbfbf","#fcf99c","#fdfcd6","#8e8e8e","#bfbfbf","#fcf99c","#fdfcd6","#ffffff"]},"legend":null}}},
  {"data":{"name":"groups"},"mark":{"type":"rect","fill":"transparent","stroke":"#8c8c8c","strokeWidth":0.8,"strokeDash":[2,1.5],"xOffset":-1.5,"x2Offset":1.5},
   "encoding":{"x":{"field":"fk","type":"nominal","bandPosition":0,"axis":null},"x2":{"field":"mk","bandPosition":1},"y":{"datum":50000,"type":"quantitative","axis":null},"y2":{"datum":0}}},
  {"data":{"name":"bars"},"transform":[{"filter":"datum.p == 'f'"}],"mark":{"type":"rule","color":"#7a7a7a","strokeWidth":0.8,"clip":true},
   "encoding":{"x":{"field":"bar","type":"nominal","axis":null},"y":{"field":"lo","type":"quantitative","axis":null},"y2":{"field":"hi"}}},
  {"data":{"name":"bars"},"transform":[{"filter":"datum.p == 'f'"}],"mark":{"type":"tick","orient":"horizontal","size":7,"thickness":0.8,"color":"#7a7a7a","clip":true},
   "encoding":{"x":{"field":"bar","type":"nominal","axis":null},"y":{"field":"hi","type":"quantitative","axis":null}}},
  {"data":{"name":"bars"},"transform":[{"filter":"datum.p == 'f'"}],"mark":{"type":"tick","orient":"horizontal","size":7,"thickness":0.8,"color":"#7a7a7a","clip":true},
   "encoding":{"x":{"field":"bar","type":"nominal","axis":null},"y":{"field":"lo","type":"quantitative","axis":null}}},
  {"data":{"name":"pts"},"transform":[{"filter":"datum.p == 'f'"}],"mark":{"type":"circle","size":17,"strokeWidth":0.6,"opacity":1},
   "encoding":{"x":{"field":"bar","type":"nominal","axis":null},"xOffset":{"field":"id","type":"ordinal","scale":{"paddingOuter":0}},"y":{"field":"v","type":"quantitative","axis":null},
    "fill":{"field":"bar","type":"nominal","scale":{"domain":["RANS F","RANS M","RANS-IGIP F","RANS-IGIP M","RAM F","RAM M","RAM-IGIP F","RAM-IGIP M","att F","att M","att-IGIP F","att-IGIP M","NV/NC"],"range":["#5c5c5c","#676767","#f2a04c","#f6d690","#5c5c5c","#676767","#f2a04c","#f6d690","#5c5c5c","#676767","#f2a04c","#f6d690","#ffffff"]},"legend":null},
    "stroke":{"field":"bar","type":"nominal","scale":{"domain":["RANS F","RANS M","RANS-IGIP F","RANS-IGIP M","RAM F","RAM M","RAM-IGIP F","RAM-IGIP M","att F","att M","att-IGIP F","att-IGIP M","NV/NC"],"range":["#474747","#505050","#c7812f","#c8a35a","#474747","#505050","#c7812f","#c8a35a","#474747","#505050","#c7812f","#c8a35a","#8a8a8a"]},"legend":null}}},
  {"data":{"name":"groups"},"mark":{"type":"text","fontSize":6,"baseline":"bottom","dy":-1.5,"color":"#333"},
   "encoding":{"x":{"field":"fk","type":"nominal","bandPosition":1.2143,"axis":{"orient":"top","title":"IgA anti-NA in sera 14 dpc","labels":false,"ticks":false,"domain":false,"titleFontSize":9,"titleFontWeight":"bold","titleColor":"#000","titlePadding":15}},"y":{"datum":50000,"type":"quantitative","axis":null},"text":{"field":"g"}}}
 ]},
{"width":330,"height":111,
 "title":{"text":"g","orient":"left","anchor":"end","angle":0,"align":"right","baseline":"top","offset":-9},
 "resolve":{"axis":{"x":"independent","y":"independent"}},
 "layer":[
  {"data":{"name":"bars"},"transform":[{"filter":"datum.p == 'g'"}],"mark":{"type":"bar","stroke":"#b4b4b4","strokeWidth":0.6},
   "encoding":{"x":{"field":"bar","type":"nominal","title":null,"scale":{"domain":["RANS F","RANS M","RANS-IGIP F","RANS-IGIP M","RAM F","RAM M","RAM-IGIP F","RAM-IGIP M","att F","att M","att-IGIP F","att-IGIP M","NV/NC"],"paddingInner":0.3,"paddingOuter":0.343,"align":0.5},"axis":{"orient":"bottom","labelExpr":"datum.value == 'NV/NC' ? 'NV/NC' : slice(datum.value, -1)","domainColor":"#333","domainWidth":2}},
    "y":{"field":"m","type":"quantitative","title":"MFI","scale":{"domain":[50000,58000],"zero":false,"nice":false},"axis":{"orient":"left","values":[50000,52000,54000,56000,58000],"format":"d","labelOverlap":false,"labelSeparation":-100,"labelPadding":8}},
    "y2":{"datum":50000},
    "color":{"field":"bar","type":"nominal","scale":{"domain":["RANS F","RANS M","RANS-IGIP F","RANS-IGIP M","RAM F","RAM M","RAM-IGIP F","RAM-IGIP M","att F","att M","att-IGIP F","att-IGIP M","NV/NC"],"range":["#8e8e8e","#bfbfbf","#fcf99c","#fdfcd6","#8e8e8e","#bfbfbf","#fcf99c","#fdfcd6","#8e8e8e","#bfbfbf","#fcf99c","#fdfcd6","#ffffff"]},"legend":null}}},
  {"data":{"name":"groups"},"mark":{"type":"rect","fill":"transparent","stroke":"#8c8c8c","strokeWidth":0.8,"strokeDash":[2,1.5],"xOffset":-1.5,"x2Offset":1.5},
   "encoding":{"x":{"field":"fk","type":"nominal","bandPosition":0,"axis":null},"x2":{"field":"mk","bandPosition":1},"y":{"datum":58000,"type":"quantitative","axis":null},"y2":{"datum":50000}}},
  {"data":{"name":"bars"},"transform":[{"filter":"datum.p == 'g'"}],"mark":{"type":"rule","color":"#7a7a7a","strokeWidth":0.8,"clip":true},
   "encoding":{"x":{"field":"bar","type":"nominal","axis":null},"y":{"field":"lo","type":"quantitative","axis":null},"y2":{"field":"hi"}}},
  {"data":{"name":"bars"},"transform":[{"filter":"datum.p == 'g'"}],"mark":{"type":"tick","orient":"horizontal","size":7,"thickness":0.8,"color":"#7a7a7a","clip":true},
   "encoding":{"x":{"field":"bar","type":"nominal","axis":null},"y":{"field":"hi","type":"quantitative","axis":null}}},
  {"data":{"name":"bars"},"transform":[{"filter":"datum.p == 'g'"}],"mark":{"type":"tick","orient":"horizontal","size":7,"thickness":0.8,"color":"#7a7a7a","clip":true},
   "encoding":{"x":{"field":"bar","type":"nominal","axis":null},"y":{"field":"lo","type":"quantitative","axis":null}}},
  {"data":{"name":"pts"},"transform":[{"filter":"datum.p == 'g'"}],"mark":{"type":"circle","size":17,"strokeWidth":0.6,"opacity":1},
   "encoding":{"x":{"field":"bar","type":"nominal","axis":null},"xOffset":{"field":"id","type":"ordinal","scale":{"paddingOuter":0}},"y":{"field":"v","type":"quantitative","axis":null},
    "fill":{"field":"bar","type":"nominal","scale":{"domain":["RANS F","RANS M","RANS-IGIP F","RANS-IGIP M","RAM F","RAM M","RAM-IGIP F","RAM-IGIP M","att F","att M","att-IGIP F","att-IGIP M","NV/NC"],"range":["#5c5c5c","#676767","#f2a04c","#f6d690","#5c5c5c","#676767","#f2a04c","#f6d690","#5c5c5c","#676767","#f2a04c","#f6d690","#ffffff"]},"legend":null},
    "stroke":{"field":"bar","type":"nominal","scale":{"domain":["RANS F","RANS M","RANS-IGIP F","RANS-IGIP M","RAM F","RAM M","RAM-IGIP F","RAM-IGIP M","att F","att M","att-IGIP F","att-IGIP M","NV/NC"],"range":["#474747","#505050","#c7812f","#c8a35a","#474747","#505050","#c7812f","#c8a35a","#474747","#505050","#c7812f","#c8a35a","#8a8a8a"]},"legend":null}}},
  {"data":{"name":"groups"},"mark":{"type":"text","fontSize":6,"baseline":"bottom","dy":-1.5,"color":"#333"},
   "encoding":{"x":{"field":"fk","type":"nominal","bandPosition":1.2143,"axis":{"orient":"top","title":"IgG anti-NP in sera 14 dpc","labels":false,"ticks":false,"domain":false,"titleFontSize":9,"titleFontWeight":"bold","titleColor":"#000","titlePadding":15}},"y":{"datum":58000,"type":"quantitative","axis":null},"text":{"field":"g"}}}
 ]},
{"width":333,"height":110,
 "title":{"text":"h","orient":"left","anchor":"end","angle":0,"align":"right","baseline":"top","offset":-9},
 "resolve":{"axis":{"x":"independent","y":"independent"}},
 "layer":[
  {"data":{"name":"bars"},"transform":[{"filter":"datum.p == 'h'"}],"mark":{"type":"bar","stroke":"#b4b4b4","strokeWidth":0.6},
   "encoding":{"x":{"field":"bar","type":"nominal","title":null,"scale":{"domain":["RANS F","RANS M","RANS-IGIP F","RANS-IGIP M","RAM F","RAM M","RAM-IGIP F","RAM-IGIP M","att F","att M","att-IGIP F","att-IGIP M","NV/NC"],"paddingInner":0.3,"paddingOuter":0.447,"align":0.48},"axis":{"orient":"bottom","labelExpr":"datum.value == 'NV/NC' ? 'NV/NC' : slice(datum.value, -1)","domainColor":"#111","domainWidth":3.5}},
    "y":{"field":"m","type":"quantitative","title":"MFI","scale":{"domain":[0,55000],"nice":false},"axis":{"orient":"left","values":[0,10000,20000,30000,40000,50000],"format":"d","labelOverlap":false,"labelSeparation":-100,"labelPadding":4}},
    "y2":{"datum":0},
    "color":{"field":"bar","type":"nominal","scale":{"domain":["RANS F","RANS M","RANS-IGIP F","RANS-IGIP M","RAM F","RAM M","RAM-IGIP F","RAM-IGIP M","att F","att M","att-IGIP F","att-IGIP M","NV/NC"],"range":["#8e8e8e","#bfbfbf","#fcf99c","#fdfcd6","#8e8e8e","#bfbfbf","#fcf99c","#fdfcd6","#8e8e8e","#bfbfbf","#fcf99c","#fdfcd6","#ffffff"]},"legend":null}}},
  {"data":{"name":"groups"},"mark":{"type":"rect","fill":"transparent","stroke":"#8c8c8c","strokeWidth":0.8,"strokeDash":[2,1.5],"xOffset":-1.5,"x2Offset":1.5},
   "encoding":{"x":{"field":"fk","type":"nominal","bandPosition":0,"axis":null},"x2":{"field":"mk","bandPosition":1},"y":{"datum":55000,"type":"quantitative","axis":null},"y2":{"datum":0}}},
  {"data":{"name":"bars"},"transform":[{"filter":"datum.p == 'h'"}],"mark":{"type":"rule","color":"#7a7a7a","strokeWidth":0.8,"clip":true},
   "encoding":{"x":{"field":"bar","type":"nominal","axis":null},"y":{"field":"lo","type":"quantitative","axis":null},"y2":{"field":"hi"}}},
  {"data":{"name":"bars"},"transform":[{"filter":"datum.p == 'h'"}],"mark":{"type":"tick","orient":"horizontal","size":7,"thickness":0.8,"color":"#7a7a7a","clip":true},
   "encoding":{"x":{"field":"bar","type":"nominal","axis":null},"y":{"field":"hi","type":"quantitative","axis":null}}},
  {"data":{"name":"bars"},"transform":[{"filter":"datum.p == 'h'"}],"mark":{"type":"tick","orient":"horizontal","size":7,"thickness":0.8,"color":"#7a7a7a","clip":true},
   "encoding":{"x":{"field":"bar","type":"nominal","axis":null},"y":{"field":"lo","type":"quantitative","axis":null}}},
  {"data":{"name":"pts"},"transform":[{"filter":"datum.p == 'h'"}],"mark":{"type":"circle","size":17,"strokeWidth":0.6,"opacity":1},
   "encoding":{"x":{"field":"bar","type":"nominal","axis":null},"xOffset":{"field":"id","type":"ordinal","scale":{"paddingOuter":0}},"y":{"field":"v","type":"quantitative","axis":null},
    "fill":{"field":"bar","type":"nominal","scale":{"domain":["RANS F","RANS M","RANS-IGIP F","RANS-IGIP M","RAM F","RAM M","RAM-IGIP F","RAM-IGIP M","att F","att M","att-IGIP F","att-IGIP M","NV/NC"],"range":["#5c5c5c","#676767","#f2a04c","#f6d690","#5c5c5c","#676767","#f2a04c","#f6d690","#5c5c5c","#676767","#f2a04c","#f6d690","#ffffff"]},"legend":null},
    "stroke":{"field":"bar","type":"nominal","scale":{"domain":["RANS F","RANS M","RANS-IGIP F","RANS-IGIP M","RAM F","RAM M","RAM-IGIP F","RAM-IGIP M","att F","att M","att-IGIP F","att-IGIP M","NV/NC"],"range":["#474747","#505050","#c7812f","#c8a35a","#474747","#505050","#c7812f","#c8a35a","#474747","#505050","#c7812f","#c8a35a","#8a8a8a"]},"legend":null}}},
  {"data":{"name":"groups"},"mark":{"type":"text","fontSize":6,"baseline":"bottom","dy":-1.5,"color":"#333"},
   "encoding":{"x":{"field":"fk","type":"nominal","bandPosition":1.2143,"axis":{"orient":"top","title":"IgA anti-NP in sera 14 dpc","labels":false,"ticks":false,"domain":false,"titleFontSize":9,"titleFontWeight":"bold","titleColor":"#000","titlePadding":14}},"y":{"datum":55000,"type":"quantitative","axis":null},"text":{"field":"g"}}}
 ]}
]
}
